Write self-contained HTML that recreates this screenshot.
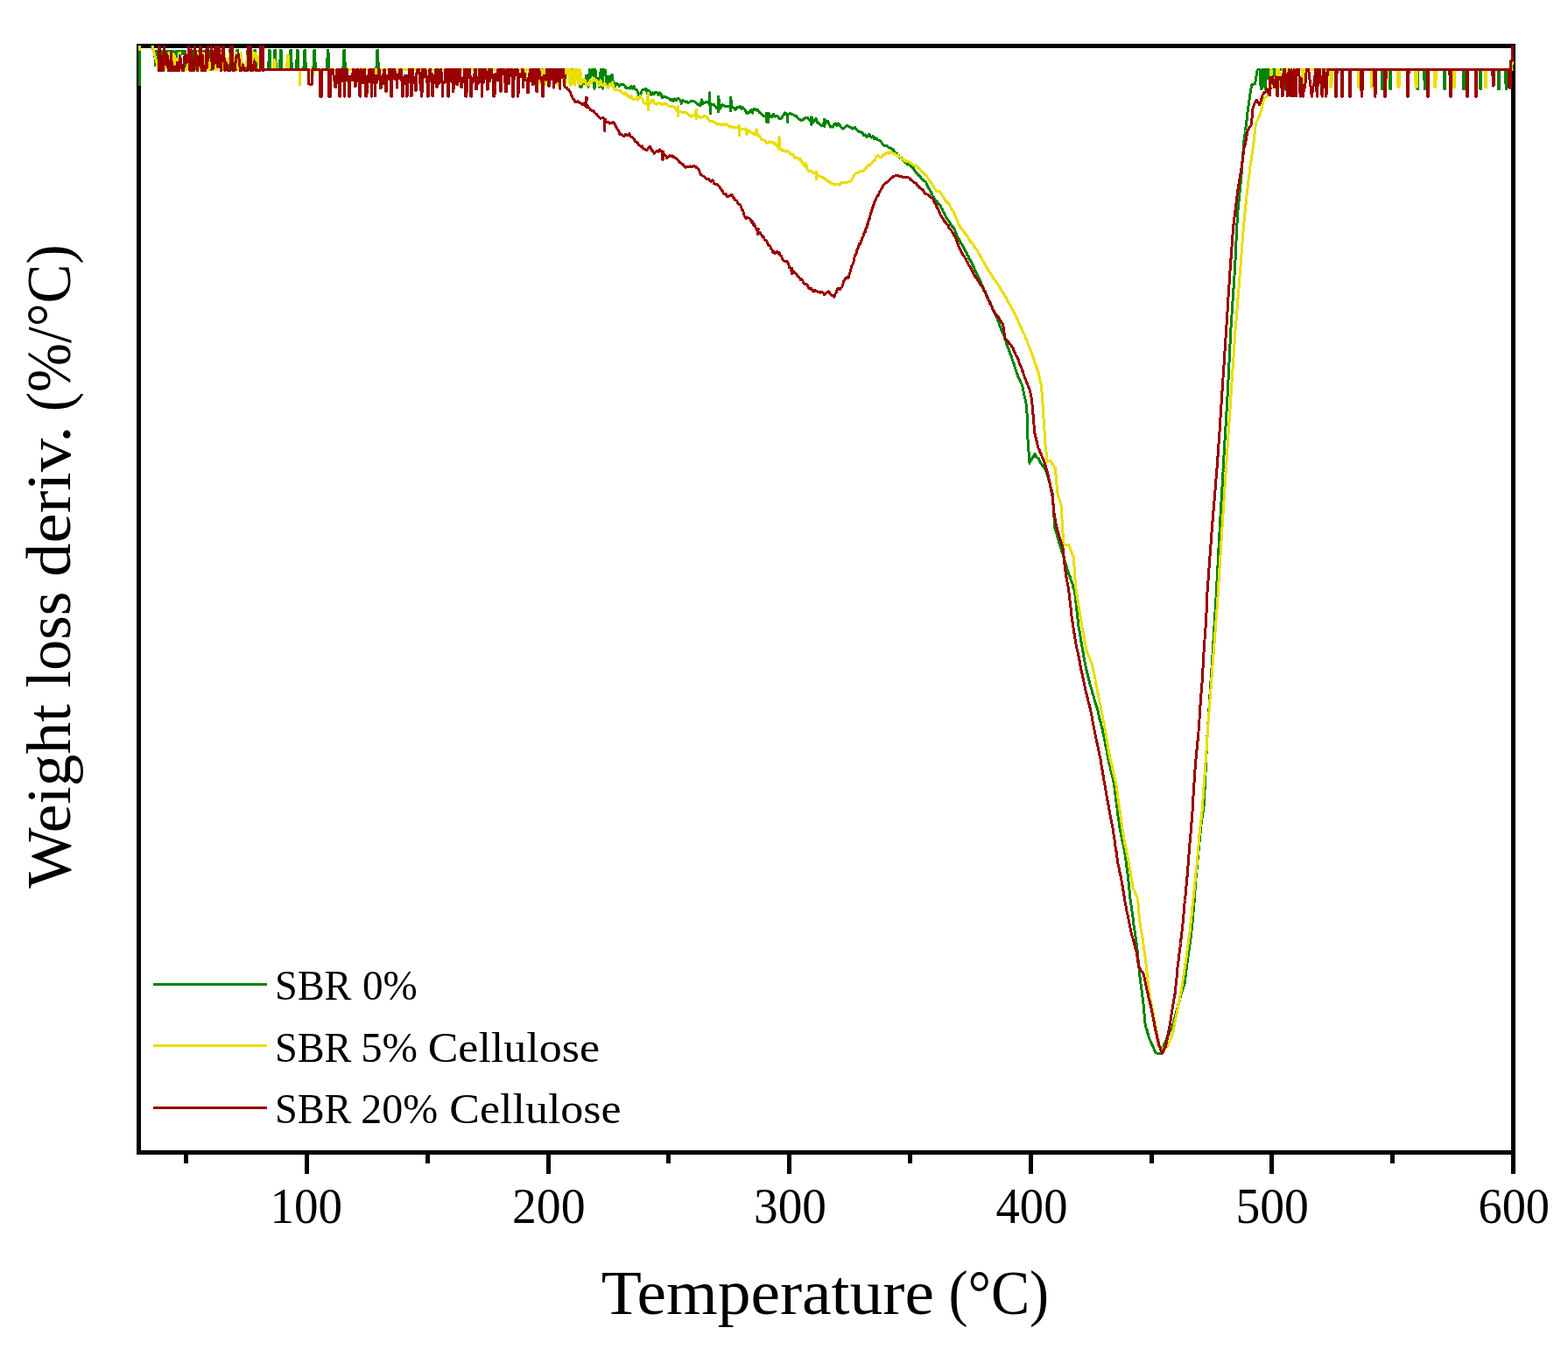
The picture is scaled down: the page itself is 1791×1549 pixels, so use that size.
<!DOCTYPE html>
<html><head><meta charset="utf-8"><title>Weight loss derivative vs temperature</title>
<style>html,body{margin:0;padding:0;background:#fff;}svg{display:block;}
text{font-family:"Liberation Serif",serif;fill:#000;}</style></head>
<body>
<svg width="1791" height="1549" viewBox="0 0 1791 1549">
<defs><clipPath id="cp"><rect x="157.6" y="52" width="1571.6" height="1262"/></clipPath></defs>
<rect x="158.5" y="52.5" width="1570.0" height="1264.0" fill="none" stroke="#000" stroke-width="5" shape-rendering="crispEdges"/>
<g clip-path="url(#cp)" fill="none" stroke-width="3" stroke-linejoin="round" stroke-linecap="butt" shape-rendering="crispEdges">
<polyline stroke="#008500" points="159.4,97.5 159.4,30.0 173.0,30.0 173.4,52.3 176.0,59.5 176.5,58.4 177.6,74.7 178.6,58.4 179.5,58.4 180.6,60.9 181.6,58.4 182.8,58.4 183.6,79.6 184.7,58.4 185.6,58.4 186.7,58.4 187.6,58.4 188.4,58.4 189.4,65.2 190.5,58.4 191.7,58.4 192.6,80.0 193.8,58.4 194.8,58.4 195.7,58.4 196.9,58.4 198.1,58.4 199.4,60.0 200.3,74.7 201.6,58.4 202.4,58.4 203.6,58.4 204.5,58.4 205.8,61.2 206.7,58.4 207.5,61.8 208.6,58.4 209.5,61.3 210.6,58.4 211.6,58.4 212.6,78.0 213.5,72.1 214.5,76.4 215.4,72.1 216.3,63.3 217.2,58.4 218.1,58.4 219.0,58.4 220.0,58.4 221.3,58.4 222.4,71.8 223.2,78.2 224.2,58.4 225.3,72.0 226.6,76.0 227.6,58.4 228.4,72.4 229.6,58.4 230.8,58.4 231.7,58.4 232.9,58.4 233.8,58.4 235.0,58.4 236.0,72.0 236.8,58.4 237.8,58.4 238.7,58.4 239.8,58.4 240.8,79.8 241.9,58.4 243.0,58.4 243.8,58.4 245.1,58.4 246.3,58.4 247.5,58.4 248.6,58.4 249.9,58.4 251.0,69.0 252.2,58.4 253.4,73.5 254.5,78.7 255.0,58.4 255.4,79.5 256.0,79.5 258.0,79.5 260.0,79.5 261.3,79.5 262.0,66.0 262.3,57.2 262.9,57.2 263.3,66.0 263.9,79.5 264.1,79.5 266.1,79.5 268.1,79.5 269.8,79.5 270.5,66.0 270.8,57.2 271.4,57.2 271.8,66.0 272.4,79.5 272.6,79.5 274.6,79.5 276.6,79.5 278.6,79.5 280.6,79.5 281.8,79.5 282.5,66.0 282.8,57.2 283.4,57.2 283.8,66.0 284.4,79.5 284.6,79.5 286.6,79.5 288.6,79.5 289.8,79.5 290.5,66.0 290.8,57.2 291.4,57.2 291.8,66.0 292.4,79.5 292.6,79.5 294.6,79.5 296.8,79.5 297.5,66.0 297.8,57.2 298.4,57.2 298.8,66.0 299.4,79.5 299.6,79.5 301.6,79.5 303.6,79.5 305.6,79.5 306.5,79.5 307.2,66.0 307.5,57.2 308.1,57.2 308.5,66.0 309.1,79.5 309.3,79.5 311.3,79.5 312.8,79.5 313.5,66.0 313.8,57.2 314.4,57.2 314.8,66.0 315.4,79.5 315.6,79.5 317.6,79.5 319.4,79.5 320.1,66.0 320.4,57.2 321.0,57.2 321.4,66.0 322.0,79.5 322.2,79.5 324.2,79.5 326.2,79.5 328.2,79.5 330.2,79.5 330.8,79.5 331.5,66.0 331.8,57.2 332.4,57.2 332.8,66.0 333.4,79.5 333.6,79.5 335.6,79.5 337.6,79.5 338.4,79.5 339.1,66.0 339.4,57.2 340.0,57.2 340.4,66.0 341.0,79.5 341.2,79.5 343.2,79.5 345.2,79.5 346.8,79.5 347.5,66.0 347.8,57.2 348.4,57.2 348.8,66.0 349.4,79.5 349.6,79.5 351.6,79.5 353.6,79.5 355.6,79.5 357.8,79.5 358.5,66.0 358.8,57.2 359.4,57.2 359.8,66.0 360.4,79.5 360.6,79.5 362.6,79.5 364.6,79.5 366.6,79.5 368.6,79.5 370.6,79.5 372.6,79.5 373.3,79.5 374.0,66.0 374.3,57.2 374.9,57.2 375.3,66.0 375.9,79.5 376.1,79.5 378.1,79.5 380.1,79.5 382.1,79.5 384.1,79.5 386.1,79.5 388.1,79.5 390.1,79.5 391.8,79.5 392.5,66.0 392.8,57.2 393.4,57.2 393.8,66.0 394.4,79.5 394.6,79.5 396.6,79.5 398.6,79.5 400.6,79.5 402.6,79.5 404.6,79.5 406.6,79.5 408.6,79.5 410.6,79.5 412.6,79.5 414.6,79.5 416.6,79.5 418.6,79.5 420.6,79.5 422.6,79.5 424.6,79.5 426.6,79.5 428.6,79.5 429.8,79.5 430.5,66.0 430.8,57.2 431.4,57.2 431.8,66.0 432.4,79.5 432.6,79.5 434.6,79.5 436.6,79.5 438.6,79.5 440.6,79.5 442.6,79.5 444.6,79.5 446.6,79.5 448.6,79.5 450.6,79.5 452.6,79.5 454.6,79.5 456.6,79.5 458.6,79.5 460.6,79.5 462.6,79.5 464.6,79.5 466.6,79.5 468.6,79.5 470.6,79.5 470.8,84.5 471.2,79.5 472.1,79.5 474.1,79.5 476.1,79.5 478.1,79.5 480.1,79.5 482.1,79.5 484.1,79.5 486.1,79.5 486.3,87.5 486.7,79.5 487.6,79.5 489.6,79.5 491.6,79.5 493.6,79.5 495.6,79.5 497.6,79.5 499.6,79.5 501.6,79.5 503.6,79.5 505.6,79.5 507.6,79.5 509.6,79.5 511.6,79.5 513.6,79.5 515.6,79.5 517.6,79.5 519.6,79.5 521.6,79.5 523.6,79.5 525.6,79.5 527.6,79.5 529.6,79.5 531.6,79.5 533.6,79.5 535.6,79.5 537.6,79.5 539.6,79.5 541.6,79.5 543.6,79.5 545.6,79.5 547.6,79.5 549.6,79.5 551.6,79.5 553.6,79.5 555.6,79.5 557.6,79.5 559.6,79.5 561.6,79.5 563.6,79.5 565.6,79.5 567.6,79.5 569.6,79.5 571.6,79.5 573.6,79.5 575.6,79.5 577.6,79.5 579.6,79.5 581.6,79.5 583.6,79.5 585.6,79.5 587.6,79.5 589.6,79.5 591.6,79.5 593.6,79.5 595.6,79.5 597.6,79.5 599.6,79.5 601.6,79.5 603.6,79.5 605.6,79.5 607.6,79.5 609.6,79.5 611.6,79.5 613.6,79.5 615.6,79.5 617.6,79.5 619.6,79.5 621.6,79.5 623.6,79.5 625.6,79.5 627.6,79.5 629.6,79.5 631.6,79.5 633.6,79.5 635.6,79.5 637.6,79.5 639.6,79.5 641.6,79.5 642.8,79.5 644.2,79.5 645.4,79.5 646.6,79.5 647.7,79.5 649.2,79.5 650.6,79.5 652.1,79.5 653.1,79.5 654.1,79.5 655.6,86.1 656.9,79.5 658.1,79.5 659.2,79.5 660.3,87.4 661.7,84.1 662.9,100.0 664.1,99.7 665.3,91.4 666.8,95.9 668.1,93.6 669.5,86.5 670.7,88.1 672.0,99.2 673.3,79.5 674.3,88.4 675.5,85.6 676.4,79.5 677.6,79.5 679.0,101.3 680.0,79.5 681.0,91.8 682.5,90.8 683.5,89.6 685.0,100.1 686.2,79.5 687.3,79.5 688.4,101.1 689.3,79.5 690.2,79.6 691.5,80.4 692.7,94.7 694.2,97.1 695.5,87.1 696.8,96.1 698.0,95.3 699.0,84.9 700.0,92.0 701.5,94.9 702.9,98.2 704.4,95.4 705.9,96.1 707.3,98.3 708.8,96.5 710.2,96.4 711.7,96.4 713.2,97.9 714.8,100.0 716.3,100.7 717.9,100.1 719.4,101.0 721.0,98.9 722.5,101.3 724.1,98.5 725.6,102.5 727.2,102.4 728.7,105.4 730.3,111.3 731.8,106.8 733.4,103.3 734.9,102.4 736.5,102.0 738.0,101.6 739.6,106.7 741.1,103.2 742.7,105.2 744.2,108.6 745.8,105.9 747.3,107.6 748.9,105.0 750.4,106.2 752.0,108.3 753.5,105.8 755.1,107.9 756.6,111.9 758.2,110.5 759.7,110.4 761.3,111.9 762.8,111.9 764.4,112.6 765.9,114.8 767.5,113.3 769.1,115.3 770.6,113.0 772.2,115.0 773.7,112.8 775.3,112.8 776.8,113.9 778.4,118.3 779.9,114.4 781.5,115.4 783.0,116.4 784.6,115.8 786.1,117.4 787.7,116.7 789.2,115.5 790.8,115.8 792.3,115.7 793.9,116.5 795.4,117.6 797.0,119.0 798.5,120.3 800.1,120.4 801.6,113.8 803.2,118.6 804.7,117.3 806.3,116.8 807.8,116.0 809.4,117.1 810.2,120.0 810.5,106.0 810.8,120.0 810.9,117.0 811.2,120.0 811.5,129.8 811.8,120.0 812.5,118.9 814.0,119.4 815.6,119.5 817.1,121.6 818.7,123.6 820.2,121.6 820.2,110.0 820.5,128.0 820.8,110.0 821.8,124.4 823.3,123.3 824.9,119.7 826.4,120.8 828.0,121.1 829.5,121.1 831.1,121.6 832.6,121.3 834.2,120.4 834.2,111.6 834.5,127.0 834.8,111.6 835.7,121.3 837.3,123.1 838.9,123.8 840.4,125.5 842.0,122.4 843.6,123.0 845.2,121.5 846.8,124.3 848.3,122.7 849.9,124.1 851.5,126.6 853.0,129.9 854.5,128.9 856.1,128.2 857.7,125.4 859.3,129.0 861.0,124.1 862.6,124.5 864.2,126.1 865.8,125.7 867.4,128.5 869.1,129.6 870.7,130.8 872.3,132.5 873.9,132.4 875.5,131.9 875.7,129.0 876.0,139.5 876.3,129.0 877.1,132.8 877.2,129.0 877.5,139.5 877.8,129.0 878.7,131.5 880.3,133.8 882.0,133.3 883.6,130.3 885.2,133.1 886.8,132.5 888.4,132.8 890.0,135.1 891.6,135.8 893.3,133.9 894.9,131.8 896.5,128.8 898.1,129.4 899.4,133.0 899.7,139.5 900.0,133.0 899.7,132.0 901.4,129.8 903.0,129.6 904.6,130.8 906.2,131.1 907.8,132.1 909.4,132.1 911.0,134.5 912.7,136.6 914.3,136.9 915.9,137.4 917.5,136.6 919.1,135.0 920.7,134.2 922.3,134.1 923.9,136.3 925.5,138.0 926.7,134.0 927.0,143.0 927.3,134.0 927.1,138.9 928.8,139.5 930.4,136.9 932.0,135.6 933.6,140.1 935.2,141.0 936.8,142.1 938.3,144.0 939.7,143.4 941.2,140.3 941.4,136.0 941.7,144.4 942.0,136.0 942.7,141.6 944.2,139.0 945.6,138.6 947.1,142.1 948.6,145.1 950.1,144.8 951.5,145.1 953.0,141.5 954.6,140.9 956.2,143.5 957.8,140.9 959.4,143.2 961.0,145.8 962.7,147.1 964.3,146.3 965.9,144.9 967.5,143.3 969.1,144.9 970.6,144.9 972.0,145.8 973.5,147.3 975.0,146.4 976.5,145.5 977.9,147.4 979.4,148.7 980.9,150.1 982.4,150.1 983.8,151.3 985.3,151.9 986.8,154.9 988.2,153.9 989.7,156.3 991.2,156.0 992.6,153.4 994.1,155.5 995.5,157.2 997.0,155.7 998.5,158.6 999.9,157.6 1001.4,158.4 1002.8,160.0 1004.1,160.0 1005.5,160.9 1006.8,162.7 1008.1,164.7 1009.5,166.0 1010.8,166.5 1012.2,166.2 1013.5,167.2 1014.8,168.4 1016.2,169.1 1017.5,168.9 1018.9,170.1 1020.2,171.1 1021.5,173.3 1022.9,174.3 1024.2,175.1 1025.6,177.8 1026.8,177.7 1027.9,180.2 1029.1,179.9 1030.2,181.9 1031.4,183.0 1032.5,184.0 1033.7,185.4 1035.0,185.8 1036.4,188.2 1037.7,187.7 1039.0,188.5 1040.4,190.2 1041.7,189.9 1042.6,192.2 1043.5,192.4 1044.4,194.8 1045.3,195.6 1046.2,197.2 1047.1,197.9 1048.0,198.2 1048.9,200.8 1049.8,200.6 1051.0,201.7 1052.1,203.9 1053.3,205.1 1054.4,205.4 1055.6,206.8 1056.7,207.2 1057.9,208.8 1058.6,211.0 1059.4,212.1 1060.1,214.1 1060.8,215.1 1061.6,216.1 1062.3,217.6 1063.1,219.3 1063.8,219.7 1064.5,221.8 1065.3,223.7 1066.0,225.1 1067.0,226.1 1068.0,228.3 1069.0,229.5 1070.0,229.9 1071.0,231.4 1072.0,233.1 1073.0,233.8 1074.0,234.4 1074.7,235.6 1075.3,238.2 1076.0,238.1 1076.7,240.1 1077.4,242.1 1078.0,242.5 1078.7,244.3 1079.4,245.6 1080.1,247.2 1080.8,248.0 1081.4,249.6 1082.1,251.1 1083.0,251.0 1083.9,252.4 1084.7,253.8 1085.6,255.8 1086.5,257.0 1087.4,258.5 1088.2,259.5 1089.1,259.6 1090.0,261.2 1090.6,262.9 1091.2,264.4 1091.8,265.7 1092.4,267.4 1093.0,268.9 1093.6,270.1 1094.3,271.8 1095.1,273.0 1095.8,274.2 1096.6,275.4 1097.3,277.1 1098.1,278.5 1098.8,279.7 1099.6,280.7 1100.3,281.8 1101.1,283.4 1101.8,285.0 1102.6,286.3 1103.3,288.2 1104.0,288.2 1104.7,290.6 1105.4,291.8 1106.1,292.4 1106.8,294.8 1107.5,295.9 1108.2,298.0 1109.0,297.8 1109.7,299.9 1110.4,301.5 1111.1,302.2 1111.8,304.4 1112.5,305.7 1113.2,307.8 1113.9,309.3 1114.5,310.2 1115.2,311.6 1115.8,313.4 1116.4,314.2 1117.0,315.0 1117.7,316.1 1118.3,318.6 1118.9,319.3 1119.6,320.1 1120.2,321.7 1120.8,323.2 1121.4,325.7 1122.1,327.1 1122.7,327.5 1123.3,328.9 1123.9,331.1 1124.6,333.3 1125.2,334.3 1125.8,335.3 1126.5,337.2 1127.1,338.5 1127.7,339.8 1128.3,340.0 1129.0,342.4 1129.6,343.8 1130.2,344.0 1130.8,345.6 1131.5,346.4 1132.1,348.3 1132.7,349.5 1133.4,351.7 1134.0,353.1 1134.6,354.0 1135.2,355.3 1135.9,357.0 1136.5,358.6 1137.1,359.6 1137.6,361.0 1138.2,362.7 1138.8,363.4 1139.3,365.3 1139.9,366.7 1140.4,367.9 1141.0,368.7 1141.6,370.5 1142.1,373.0 1142.7,373.8 1143.2,375.1 1143.8,376.8 1144.4,377.8 1144.9,379.4 1145.5,380.9 1146.0,381.7 1146.6,383.0 1147.1,384.4 1147.6,386.9 1148.2,388.4 1148.7,388.9 1149.2,390.5 1149.8,392.9 1150.3,393.3 1150.9,396.2 1151.4,397.4 1151.9,398.2 1152.5,400.4 1153.0,401.1 1153.5,402.4 1154.1,404.8 1154.6,406.0 1155.1,406.9 1155.6,408.8 1156.1,410.1 1156.5,411.1 1157.0,413.1 1157.5,413.9 1158.0,415.5 1158.5,417.3 1159.0,418.8 1159.5,420.6 1159.9,421.8 1160.4,423.3 1160.9,424.4 1161.4,426.1 1162.0,427.4 1162.6,429.7 1163.2,431.1 1163.8,432.0 1164.4,433.3 1165.1,434.3 1165.7,436.4 1166.3,437.6 1166.9,438.6 1167.5,440.5 1168.1,442.4 1168.4,443.1 1168.7,445.8 1169.0,447.1 1169.3,448.2 1169.6,449.0 1169.9,451.7 1170.2,453.1 1170.6,454.5 1170.9,455.0 1171.2,457.8 1171.5,458.8 1171.8,460.0 1172.1,461.1 1172.4,463.6 1172.7,464.5 1172.8,466.7 1172.8,467.4 1172.9,469.8 1172.9,470.2 1173.0,472.4 1173.0,473.9 1173.0,476.1 1173.1,476.7 1173.2,478.9 1173.2,479.6 1173.2,482.3 1173.3,482.7 1173.3,485.1 1173.4,486.0 1173.5,488.1 1173.5,489.3 1173.5,491.2 1173.6,493.0 1173.6,494.4 1173.7,495.4 1173.8,496.6 1173.8,499.1 1173.9,499.8 1174.0,502.2 1174.1,503.7 1174.2,504.0 1174.3,506.8 1174.5,508.3 1174.6,508.8 1174.7,510.5 1174.8,512.8 1174.9,513.4 1175.0,515.6 1175.1,517.4 1175.2,517.6 1175.3,519.1 1175.5,521.1 1175.6,522.7 1175.7,524.1 1175.8,526.4 1175.9,528.1 1176.0,529.2 1176.8,527.4 1177.6,526.0 1178.4,525.5 1179.3,522.7 1180.1,522.4 1180.9,520.2 1181.7,518.5 1182.7,519.6 1183.6,521.6 1184.6,522.9 1185.6,523.2 1186.6,524.6 1187.5,526.5 1188.5,527.9 1189.3,530.1 1190.2,530.6 1191.0,532.7 1191.9,533.8 1192.8,534.6 1193.6,536.3 1194.5,537.7 1195.3,538.4 1195.7,540.9 1196.2,541.9 1196.6,543.4 1197.1,544.9 1197.5,547.0 1198.0,549.2 1198.4,550.8 1198.9,550.8 1199.3,553.2 1199.8,555.3 1200.2,556.6 1200.7,557.0 1201.1,559.7 1201.6,561.3 1202.0,562.4 1202.1,564.1 1202.2,564.8 1202.3,566.0 1202.4,567.4 1202.5,570.1 1202.6,570.7 1202.8,572.5 1202.9,573.6 1203.0,575.2 1203.1,576.6 1203.2,578.4 1203.3,580.5 1203.4,582.1 1203.5,582.8 1203.6,584.5 1203.7,586.0 1203.8,587.9 1203.9,589.2 1204.0,590.9 1204.1,591.9 1204.3,594.0 1204.4,595.8 1204.5,597.1 1204.6,598.8 1204.7,600.5 1204.8,601.7 1204.9,603.3 1205.3,603.9 1205.8,606.2 1206.2,607.2 1206.6,608.9 1207.1,609.4 1207.5,611.8 1207.9,613.0 1208.4,614.6 1208.8,615.8 1209.2,617.4 1209.7,619.4 1210.1,620.8 1210.6,621.6 1211.0,623.6 1211.4,624.6 1211.9,626.6 1212.3,627.2 1212.7,629.7 1213.2,630.1 1213.6,632.1 1214.0,632.9 1214.5,635.7 1214.9,636.6 1215.3,637.3 1215.8,639.9 1216.2,640.7 1216.7,642.0 1217.2,643.7 1217.7,645.9 1218.2,646.9 1218.7,649.0 1219.1,651.0 1219.6,651.7 1220.1,653.5 1220.6,655.1 1221.1,656.8 1221.6,657.1 1222.1,658.6 1222.6,660.0 1223.1,662.1 1223.6,663.1 1224.1,665.0 1224.6,665.6 1225.0,667.1 1225.5,670.0 1226.0,671.2 1226.5,671.6 1227.0,673.4 1227.5,675.1 1227.7,677.1 1227.8,677.9 1228.0,680.3 1228.2,681.6 1228.3,683.2 1228.5,683.6 1228.7,684.9 1228.8,687.0 1229.0,689.2 1229.2,690.3 1229.3,691.1 1229.5,693.4 1229.7,694.4 1229.8,695.4 1230.0,697.6 1230.2,699.3 1230.3,700.0 1230.5,701.6 1230.7,704.0 1230.8,704.8 1231.0,707.0 1231.2,708.0 1231.3,710.0 1231.5,711.5 1231.7,712.3 1231.8,713.3 1232.0,716.0 1232.3,716.5 1232.5,718.4 1232.8,719.4 1233.0,721.1 1233.3,722.5 1233.5,723.5 1233.8,725.2 1234.0,727.3 1234.3,728.8 1234.5,729.6 1234.8,730.9 1235.0,733.6 1235.3,735.0 1235.5,735.4 1235.8,737.5 1236.0,738.7 1236.3,741.2 1236.5,743.0 1236.8,743.6 1237.0,744.5 1237.3,746.5 1237.5,748.4 1237.8,749.9 1238.0,750.8 1238.3,753.0 1238.5,754.8 1238.8,755.4 1239.2,756.9 1239.5,758.6 1239.9,760.0 1240.3,762.4 1240.7,763.6 1241.0,765.7 1241.4,765.8 1241.8,768.6 1242.2,770.3 1242.5,771.2 1242.9,773.0 1243.3,773.9 1243.6,775.0 1244.0,777.4 1244.4,778.2 1244.8,780.4 1245.1,782.6 1245.5,782.8 1246.0,784.9 1246.4,787.1 1246.9,787.8 1247.3,789.2 1247.8,791.8 1248.2,792.5 1248.7,793.7 1249.1,795.5 1249.6,797.2 1250.0,798.9 1250.5,800.3 1250.9,802.0 1251.4,802.8 1251.8,804.8 1252.3,805.6 1252.7,807.9 1253.1,808.9 1253.4,809.4 1253.8,811.2 1254.2,813.1 1254.6,815.3 1254.9,816.5 1255.3,817.7 1255.7,820.5 1256.1,821.5 1256.5,822.7 1256.8,824.1 1257.2,825.3 1257.6,827.8 1258.0,829.2 1258.3,830.1 1258.7,831.5 1259.1,832.9 1259.4,834.1 1259.7,835.7 1260.0,837.4 1260.3,838.7 1260.6,840.3 1260.9,841.5 1261.2,843.3 1261.5,844.4 1261.8,845.6 1262.1,847.6 1262.4,848.5 1262.6,850.0 1262.9,852.8 1263.2,854.1 1263.5,855.5 1263.8,855.8 1264.1,857.5 1264.4,858.8 1264.7,861.2 1265.0,862.6 1265.3,863.7 1265.6,865.4 1265.9,867.6 1266.2,868.4 1266.6,870.4 1266.9,872.0 1267.3,873.4 1267.6,873.7 1267.9,875.7 1268.3,878.0 1268.6,879.5 1269.0,880.8 1269.3,881.9 1269.6,882.6 1270.0,885.2 1270.3,886.6 1270.7,888.5 1271.0,888.7 1271.3,891.1 1271.7,892.1 1272.0,893.7 1272.4,895.6 1272.7,896.6 1272.9,899.0 1273.1,900.5 1273.3,900.8 1273.4,903.3 1273.6,904.9 1273.8,905.9 1274.0,907.6 1274.2,909.7 1274.4,910.7 1274.6,912.1 1274.8,913.9 1274.9,914.7 1275.1,917.6 1275.3,918.6 1275.5,920.0 1275.7,921.3 1275.9,922.4 1276.1,923.9 1276.3,925.9 1276.5,927.7 1276.7,928.9 1276.9,930.3 1277.1,932.4 1277.3,933.2 1277.6,935.2 1277.8,936.8 1278.0,937.6 1278.2,940.6 1278.4,941.8 1278.6,943.5 1278.8,943.8 1279.0,945.5 1279.2,948.2 1279.4,949.5 1279.7,950.0 1280.1,951.5 1280.4,953.0 1280.8,954.8 1281.1,956.4 1281.5,957.8 1281.8,959.1 1282.1,961.1 1282.5,963.0 1282.8,964.2 1283.2,965.5 1283.5,966.8 1283.9,969.0 1284.2,970.6 1284.4,972.9 1284.6,973.2 1284.8,974.5 1285.1,976.5 1285.3,978.5 1285.5,980.2 1285.7,980.4 1285.9,982.6 1286.2,983.4 1286.4,986.2 1286.6,987.9 1286.8,987.9 1287.0,990.8 1287.2,992.1 1287.4,992.6 1287.7,994.3 1287.9,996.8 1288.1,998.3 1288.3,998.7 1288.4,1000.3 1288.6,1002.0 1288.7,1003.8 1288.9,1004.4 1289.0,1007.0 1289.2,1008.1 1289.3,1009.7 1289.5,1010.6 1289.6,1013.0 1289.8,1014.3 1289.9,1015.5 1290.1,1018.0 1290.2,1019.6 1290.4,1020.4 1290.5,1022.7 1290.7,1023.2 1290.8,1025.4 1291.0,1026.8 1291.2,1028.5 1291.4,1030.2 1291.6,1031.3 1291.8,1032.1 1292.0,1033.6 1292.2,1036.0 1292.4,1036.6 1292.6,1038.8 1292.8,1039.5 1293.1,1041.4 1293.3,1042.9 1293.5,1044.5 1293.7,1046.5 1293.9,1047.5 1294.1,1048.6 1294.3,1050.2 1294.5,1052.0 1294.7,1054.3 1294.9,1056.1 1295.1,1057.4 1295.3,1058.0 1295.5,1059.3 1295.7,1061.1 1296.0,1062.8 1296.2,1064.7 1296.4,1065.7 1296.6,1066.9 1296.8,1068.4 1297.0,1069.9 1297.2,1072.0 1297.4,1073.4 1297.6,1075.0 1297.9,1075.9 1298.1,1077.4 1298.3,1080.1 1298.5,1081.7 1298.7,1081.8 1298.8,1084.2 1299.0,1085.1 1299.1,1087.0 1299.3,1088.1 1299.4,1090.0 1299.6,1091.2 1299.7,1093.4 1299.9,1094.5 1300.0,1096.0 1300.2,1098.0 1300.3,1099.6 1300.4,1100.5 1300.6,1102.7 1300.7,1103.2 1300.9,1105.7 1301.0,1106.3 1301.2,1108.5 1301.3,1110.4 1301.5,1112.4 1301.6,1113.2 1301.8,1114.5 1302.0,1115.8 1302.2,1118.6 1302.4,1119.9 1302.6,1120.4 1302.8,1122.9 1303.0,1124.1 1303.2,1125.2 1303.4,1127.7 1303.7,1128.0 1303.9,1129.6 1304.1,1132.0 1304.3,1133.7 1304.5,1135.8 1304.7,1137.0 1304.9,1138.7 1305.1,1139.9 1305.3,1140.6 1305.5,1142.0 1305.7,1143.7 1305.8,1145.8 1306.0,1147.3 1306.1,1149.1 1306.3,1149.7 1306.4,1151.5 1306.6,1152.7 1306.7,1155.5 1306.9,1156.4 1307.0,1157.6 1307.2,1159.7 1307.3,1160.5 1307.5,1162.0 1307.6,1165.0 1307.8,1166.0 1307.9,1167.7 1308.1,1169.5 1308.2,1170.3 1308.4,1172.0 1308.9,1173.4 1309.4,1175.5 1309.9,1176.6 1310.4,1177.5 1310.8,1180.2 1311.3,1180.5 1311.8,1183.5 1312.3,1184.6 1312.8,1186.2 1313.3,1187.9 1313.9,1188.9 1314.5,1190.8 1315.1,1191.4 1315.7,1193.5 1316.3,1194.2 1316.9,1195.1 1317.5,1196.9 1318.1,1198.3 1319.1,1200.7 1320.0,1202.5 1321.0,1203.0 1322.7,1203.3 1324.3,1203.4 1326.0,1203.7 1326.6,1201.8 1327.2,1199.2 1327.9,1199.1 1328.5,1196.8 1329.1,1194.5 1329.7,1193.2 1330.4,1192.4 1331.0,1190.6 1331.6,1188.8 1332.2,1187.4 1332.9,1185.8 1333.5,1184.9 1334.2,1183.3 1334.8,1182.7 1335.5,1180.6 1336.2,1178.5 1336.8,1177.0 1337.5,1175.7 1338.1,1175.5 1338.8,1173.9 1339.4,1172.0 1339.8,1170.0 1340.2,1169.2 1340.6,1167.1 1340.9,1166.4 1341.3,1165.5 1341.7,1163.7 1342.1,1161.3 1342.5,1160.9 1342.9,1158.5 1343.2,1158.0 1343.6,1155.4 1344.0,1155.0 1344.4,1153.0 1344.8,1151.4 1345.2,1150.4 1345.6,1148.5 1345.9,1147.2 1346.3,1146.3 1346.7,1144.3 1347.1,1143.1 1347.6,1141.6 1348.0,1139.4 1348.5,1137.7 1348.9,1136.1 1349.4,1135.2 1349.8,1133.9 1350.3,1132.0 1350.7,1131.3 1351.2,1128.7 1351.6,1128.5 1352.1,1126.4 1352.5,1124.2 1353.0,1124.1 1353.2,1122.5 1353.4,1119.6 1353.6,1119.0 1353.8,1116.9 1354.0,1115.9 1354.2,1113.8 1354.4,1112.0 1354.6,1111.6 1354.8,1109.5 1355.0,1108.4 1355.2,1106.3 1355.4,1104.5 1355.6,1103.2 1355.8,1102.1 1356.0,1100.0 1356.2,1098.8 1356.4,1097.1 1356.6,1096.4 1356.8,1094.6 1357.0,1093.2 1357.2,1090.6 1357.5,1089.6 1357.7,1089.1 1357.9,1086.9 1358.1,1085.4 1358.3,1084.2 1358.5,1082.1 1358.8,1080.9 1359.0,1078.6 1359.2,1078.1 1359.4,1076.0 1359.6,1074.3 1359.8,1074.0 1360.0,1072.0 1360.3,1070.8 1360.5,1068.2 1360.7,1067.6 1360.8,1064.9 1361.0,1063.6 1361.1,1061.9 1361.3,1061.4 1361.4,1059.2 1361.6,1058.4 1361.7,1055.9 1361.9,1054.9 1362.0,1053.7 1362.2,1052.4 1362.3,1050.3 1362.4,1048.3 1362.6,1046.3 1362.7,1045.6 1362.9,1043.2 1363.0,1042.2 1363.2,1040.3 1363.3,1038.8 1363.5,1036.9 1363.6,1035.6 1363.7,1034.0 1363.8,1032.7 1363.9,1031.1 1364.1,1030.7 1364.2,1028.3 1364.3,1026.6 1364.4,1024.6 1364.5,1023.1 1364.6,1021.9 1364.8,1021.0 1364.9,1019.2 1365.0,1017.8 1365.1,1015.5 1365.2,1014.5 1365.3,1013.4 1365.5,1011.3 1365.6,1009.5 1365.7,1008.4 1365.8,1007.3 1365.9,1005.6 1366.0,1003.0 1366.2,1001.3 1366.3,1000.7 1366.4,998.3 1366.5,997.8 1366.7,996.1 1366.8,994.8 1367.0,992.6 1367.1,991.8 1367.3,990.0 1367.4,988.7 1367.6,987.3 1367.7,984.8 1367.9,984.1 1368.0,982.3 1368.2,980.8 1368.3,978.8 1368.5,977.7 1368.6,976.1 1368.8,973.7 1368.9,973.4 1369.1,970.6 1369.2,969.4 1369.4,967.6 1369.6,967.4 1369.7,964.6 1369.9,963.2 1370.0,961.9 1370.2,961.2 1370.3,959.7 1370.5,957.0 1370.6,956.3 1370.8,954.4 1370.9,952.8 1371.1,951.8 1371.2,949.9 1371.4,948.3 1371.5,946.9 1371.7,945.8 1371.8,944.2 1372.0,941.9 1372.1,939.9 1372.3,939.7 1372.5,937.9 1372.7,936.0 1373.0,935.1 1373.2,933.5 1373.4,931.6 1373.6,930.3 1373.9,928.6 1374.1,927.6 1374.3,925.1 1374.5,924.5 1374.8,922.6 1375.0,920.6 1375.2,919.7 1375.3,918.5 1375.3,916.5 1375.4,915.1 1375.5,913.0 1375.6,912.9 1375.6,911.2 1375.7,908.8 1375.8,907.3 1375.8,905.7 1375.9,905.3 1376.0,902.5 1376.1,901.1 1376.1,900.0 1376.2,898.7 1376.3,896.9 1376.3,895.0 1376.4,893.6 1376.5,892.8 1376.6,891.4 1376.6,889.6 1376.7,887.5 1376.8,887.4 1376.8,884.8 1376.9,883.0 1377.0,882.0 1377.1,880.5 1377.1,878.9 1377.2,878.3 1377.3,875.8 1377.4,874.2 1377.4,872.6 1377.5,870.9 1377.6,870.8 1377.6,869.1 1377.7,867.3 1377.8,865.2 1377.9,863.4 1377.9,861.9 1378.0,860.4 1378.1,860.2 1378.1,857.7 1378.2,856.1 1378.3,854.3 1378.4,853.9 1378.4,852.4 1378.5,850.5 1378.6,849.4 1378.6,848.1 1378.7,845.2 1378.8,844.1 1378.9,842.3 1378.9,842.0 1379.0,840.1 1379.1,838.0 1379.2,836.9 1379.3,834.9 1379.4,833.1 1379.5,831.5 1379.6,831.2 1379.7,829.9 1379.8,827.1 1379.9,826.0 1380.0,825.1 1380.1,823.2 1380.2,821.0 1380.3,819.4 1380.4,819.0 1380.5,816.5 1380.6,815.9 1380.7,814.3 1380.8,812.6 1380.9,811.1 1381.0,809.1 1381.1,807.8 1381.2,806.8 1381.2,805.1 1381.3,803.4 1381.4,801.8 1381.5,800.6 1381.6,798.5 1381.7,796.8 1381.8,795.9 1381.9,793.8 1382.0,793.0 1382.1,791.7 1382.2,788.9 1382.3,788.2 1382.4,786.7 1382.5,785.7 1382.6,783.9 1382.7,781.7 1382.8,779.7 1382.9,779.6 1383.0,778.2 1383.1,775.4 1383.2,774.2 1383.3,772.6 1383.4,770.8 1383.5,770.5 1383.6,768.6 1383.7,766.2 1383.8,765.1 1383.9,763.2 1384.0,762.8 1384.1,761.4 1384.2,759.9 1384.3,758.3 1384.4,756.2 1384.5,754.5 1384.6,753.4 1384.7,750.9 1384.8,750.3 1384.9,748.7 1385.0,747.7 1385.1,746.1 1385.2,743.3 1385.3,741.8 1385.4,740.4 1385.5,739.7 1385.6,737.1 1385.7,737.0 1385.8,735.4 1385.9,732.6 1386.0,732.4 1386.0,729.8 1386.1,728.2 1386.2,726.8 1386.3,725.1 1386.4,724.2 1386.5,723.2 1386.6,720.5 1386.7,719.5 1386.8,718.5 1386.9,716.7 1387.0,715.5 1387.1,714.3 1387.2,712.1 1387.3,711.1 1387.4,708.7 1387.5,706.9 1387.6,706.3 1387.7,703.8 1387.8,703.5 1387.9,700.7 1388.0,699.5 1388.1,698.0 1388.2,697.6 1388.3,695.2 1388.4,693.2 1388.5,691.8 1388.6,690.9 1388.7,689.8 1388.7,688.2 1388.8,686.5 1388.9,684.1 1389.0,683.1 1389.1,682.5 1389.1,679.8 1389.2,678.6 1389.3,676.8 1389.4,675.5 1389.5,673.8 1389.5,672.6 1389.6,671.9 1389.7,669.4 1389.8,667.6 1389.9,666.6 1389.9,665.7 1390.0,663.8 1390.1,662.1 1390.2,661.0 1390.3,660.0 1390.3,657.7 1390.4,655.8 1390.5,654.4 1390.6,653.2 1390.7,651.4 1390.7,651.0 1390.8,648.3 1390.9,647.6 1391.0,646.0 1391.1,644.5 1391.1,643.0 1391.2,641.5 1391.3,639.1 1391.4,638.0 1391.5,636.1 1391.5,635.3 1391.6,634.2 1391.7,631.9 1391.8,630.1 1391.9,628.9 1391.9,627.2 1392.0,626.6 1392.1,624.8 1392.2,623.2 1392.3,621.1 1392.3,620.4 1392.4,618.2 1392.5,617.6 1392.6,615.1 1392.7,613.6 1392.7,613.4 1392.8,612.1 1392.9,609.7 1393.0,608.6 1393.1,606.4 1393.2,606.1 1393.2,603.3 1393.3,602.9 1393.4,600.8 1393.5,599.9 1393.6,597.0 1393.7,596.9 1393.8,595.3 1393.8,592.4 1393.9,590.9 1394.0,590.8 1394.1,588.5 1394.2,586.5 1394.3,584.9 1394.4,583.5 1394.5,582.5 1394.5,580.6 1394.6,579.2 1394.7,577.4 1394.8,575.9 1394.9,575.4 1395.0,573.1 1395.1,571.2 1395.1,570.0 1395.2,569.2 1395.3,566.9 1395.4,566.4 1395.5,564.9 1395.6,563.1 1395.7,561.1 1395.7,560.1 1395.8,558.9 1395.9,556.2 1396.0,555.8 1396.1,554.5 1396.2,552.6 1396.3,551.0 1396.4,548.6 1396.4,547.4 1396.5,546.3 1396.6,544.2 1396.7,543.1 1396.8,542.1 1396.9,540.0 1397.0,539.0 1397.0,536.6 1397.1,534.9 1397.2,534.2 1397.3,531.7 1397.4,531.6 1397.5,530.2 1397.6,528.6 1397.7,526.7 1397.8,524.4 1397.8,524.1 1397.9,522.1 1398.0,519.7 1398.1,518.8 1398.2,517.9 1398.3,515.9 1398.4,514.0 1398.5,513.5 1398.6,511.2 1398.7,508.9 1398.7,507.6 1398.8,506.6 1398.9,505.4 1399.0,503.5 1399.1,502.2 1399.2,500.6 1399.3,498.7 1399.4,496.8 1399.5,495.8 1399.6,495.0 1399.6,493.7 1399.7,490.6 1399.8,489.7 1399.9,489.1 1400.0,487.0 1400.1,484.6 1400.2,483.0 1400.3,482.0 1400.4,480.2 1400.5,480.0 1400.5,477.4 1400.6,476.7 1400.7,474.7 1400.8,473.4 1400.9,471.2 1401.0,470.5 1401.1,468.0 1401.2,466.5 1401.3,465.6 1401.4,464.2 1401.4,462.3 1401.5,461.1 1401.6,459.0 1401.7,458.6 1401.8,456.4 1401.9,455.1 1402.0,453.5 1402.1,452.4 1402.1,450.5 1402.2,448.7 1402.3,447.3 1402.4,446.4 1402.4,444.6 1402.5,443.4 1402.6,440.9 1402.7,439.7 1402.7,438.0 1402.8,436.9 1402.9,434.8 1403.0,433.8 1403.0,432.3 1403.1,429.7 1403.2,429.0 1403.3,426.9 1403.4,426.4 1403.4,424.9 1403.5,423.2 1403.6,421.7 1403.7,420.2 1403.7,418.2 1403.8,416.9 1403.9,415.9 1404.0,413.9 1404.0,411.6 1404.1,410.5 1404.2,409.5 1404.3,407.1 1404.3,405.7 1404.4,404.0 1404.5,403.3 1404.6,401.0 1404.7,399.8 1404.7,397.9 1404.8,397.3 1404.9,395.5 1405.0,393.4 1405.0,392.1 1405.1,391.3 1405.2,388.9 1405.3,387.8 1405.3,385.8 1405.4,384.3 1405.5,384.0 1405.6,381.4 1405.6,380.1 1405.7,379.2 1405.8,377.4 1405.9,376.6 1406.0,374.6 1406.1,373.2 1406.2,371.3 1406.3,369.6 1406.4,368.7 1406.5,366.3 1406.6,365.0 1406.7,364.3 1406.8,362.0 1406.9,360.6 1407.0,360.0 1407.1,357.3 1407.2,356.4 1407.3,355.3 1407.4,352.7 1407.5,352.4 1407.6,351.1 1407.7,349.2 1407.8,347.4 1407.9,346.1 1408.0,344.7 1408.1,342.8 1408.2,342.1 1408.3,340.5 1408.4,339.2 1408.5,336.4 1408.6,335.0 1408.7,333.6 1408.8,332.3 1408.9,330.5 1409.0,329.6 1409.1,328.4 1409.2,326.1 1409.3,325.3 1409.4,323.7 1409.5,322.4 1409.6,320.8 1409.7,318.9 1409.8,317.4 1409.9,315.9 1410.0,314.9 1410.1,312.3 1410.2,311.2 1410.3,310.1 1410.4,309.2 1410.4,306.6 1410.5,305.9 1410.6,303.3 1410.7,303.1 1410.7,301.0 1410.8,300.3 1410.9,297.6 1411.0,296.7 1411.0,294.4 1411.1,292.9 1411.2,291.8 1411.3,290.4 1411.3,289.2 1411.4,286.6 1411.5,285.5 1411.6,284.8 1411.6,282.2 1411.7,281.1 1411.8,279.1 1411.9,277.6 1411.9,276.9 1412.0,275.4 1412.1,273.5 1412.2,272.2 1412.2,270.1 1412.3,268.6 1412.4,267.3 1412.5,267.0 1412.5,264.0 1412.6,262.6 1412.7,262.0 1412.8,259.5 1412.8,259.1 1412.9,257.2 1413.0,255.3 1413.1,254.8 1413.1,252.4 1413.2,251.0 1413.3,249.4 1413.4,247.8 1413.4,247.3 1413.5,244.7 1413.7,244.1 1413.8,242.6 1414.0,240.6 1414.1,238.6 1414.2,238.2 1414.4,236.5 1414.5,235.2 1414.7,232.3 1414.8,231.4 1415.0,230.0 1415.2,228.4 1415.3,227.2 1415.5,226.0 1415.6,224.6 1415.8,222.5 1415.9,221.7 1416.0,219.6 1416.2,217.8 1416.4,215.6 1416.5,214.3 1416.7,212.9 1416.8,212.7 1417.0,210.6 1417.1,208.4 1417.2,208.1 1417.4,206.3 1417.5,204.5 1417.7,203.6 1417.8,201.0 1417.9,200.3 1418.1,197.6 1418.2,196.1 1418.3,194.6 1418.4,194.6 1418.5,193.0 1418.6,190.3 1418.8,188.9 1418.9,188.4 1419.0,186.3 1419.1,184.0 1419.2,183.2 1419.3,181.9 1419.5,180.8 1419.6,179.5 1419.7,177.2 1419.8,176.2 1419.9,173.8 1420.1,173.3 1420.2,170.8 1420.3,170.4 1420.4,168.1 1420.5,166.1 1420.6,165.4 1420.8,163.4 1420.9,162.4 1421.0,160.7 1421.2,159.1 1421.4,158.2 1421.6,156.7 1421.8,155.0 1422.0,152.8 1422.1,151.4 1422.3,150.6 1422.5,149.5 1422.7,147.8 1422.9,146.4 1423.1,144.4 1423.3,142.4 1423.5,140.4 1423.7,140.2 1423.9,138.5 1424.1,136.7 1424.2,135.4 1424.4,134.1 1424.6,131.5 1424.8,129.7 1425.0,128.2 1425.2,127.0 1425.4,125.4 1425.6,124.6 1425.8,122.3 1426.0,121.2 1426.2,119.3 1426.5,117.5 1426.7,117.3 1426.9,115.4 1427.1,113.0 1427.3,112.6 1427.5,110.9 1427.7,109.3 1427.9,107.9 1428.1,106.4 1428.4,104.7 1428.6,103.6 1428.8,102.3 1429.0,100.8 1429.2,98.0 1429.4,96.7 1430.8,96.2 1432.2,96.2 1433.6,95.6 1433.9,94.7 1434.1,92.3 1434.4,90.4 1434.6,89.0 1434.9,87.9 1435.2,85.6 1435.4,84.9 1435.7,83.6 1435.9,81.8 1436.2,80.1 1437.0,79.5 1438.2,79.5 1439.2,79.5 1440.2,101.5 1441.2,101.5 1442.3,79.5 1443.4,79.5 1444.3,90.0 1445.1,101.5 1446.3,79.5 1447.3,79.5 1448.2,90.0 1449.2,79.5 1450.0,90.0 1451.1,101.5 1452.2,79.5 1453.3,79.5 1454.6,79.5 1455.9,90.0 1456.9,79.5 1458.2,101.5 1459.3,79.5 1460.1,79.5 1461.2,79.5 1463.2,79.5 1465.0,79.5 1465.4,92.0 1465.7,101.8 1466.4,101.8 1466.7,79.5 1467.5,79.5 1469.5,79.5 1471.5,79.5 1473.5,79.5 1475.5,79.5 1477.5,79.5 1479.5,79.5 1481.5,79.5 1483.5,79.5 1485.5,79.5 1487.5,79.5 1489.5,79.5 1491.5,79.5 1493.5,79.5 1495.5,79.5 1497.5,79.5 1499.5,79.5 1501.5,79.5 1503.5,79.5 1505.5,79.5 1507.5,79.5 1509.5,79.5 1511.5,79.5 1513.5,79.5 1515.5,79.5 1517.5,79.5 1519.5,79.5 1521.5,79.5 1523.5,79.5 1525.5,79.5 1527.5,79.5 1529.5,79.5 1531.5,79.5 1533.5,79.5 1535.5,79.5 1537.5,79.5 1539.5,79.5 1541.5,79.5 1543.5,79.5 1545.5,79.5 1547.5,79.5 1549.5,79.5 1551.5,79.5 1553.5,79.5 1555.5,79.5 1557.5,79.5 1559.5,79.5 1561.5,79.5 1563.5,79.5 1565.5,79.5 1567.5,79.5 1569.5,79.5 1571.5,79.5 1573.5,79.5 1575.5,79.5 1578.0,79.5 1578.4,92.0 1578.7,101.8 1579.4,101.8 1579.7,79.5 1580.5,79.5 1582.5,79.5 1584.5,79.5 1586.5,79.5 1587.2,79.5 1587.6,92.0 1587.9,101.8 1588.6,101.8 1588.9,79.5 1589.7,79.5 1591.7,79.5 1593.7,79.5 1595.7,79.5 1597.7,79.5 1599.7,79.5 1601.7,79.5 1603.7,79.5 1605.7,79.5 1607.7,79.5 1609.7,79.5 1611.7,79.5 1613.7,79.5 1615.7,79.5 1618.2,79.5 1618.6,92.0 1618.9,101.8 1619.6,101.8 1619.9,79.5 1620.7,79.5 1622.7,79.5 1624.7,79.5 1626.6,79.5 1627.0,92.0 1627.3,101.8 1628.0,101.8 1628.3,79.5 1629.1,79.5 1631.1,79.5 1633.1,79.5 1635.1,79.5 1637.1,79.5 1639.1,79.5 1641.1,79.5 1643.1,79.5 1645.1,79.5 1647.1,79.5 1649.2,79.5 1649.6,92.0 1649.9,101.8 1650.6,101.8 1650.9,79.5 1651.7,79.5 1653.7,79.5 1655.7,79.5 1657.7,79.5 1659.7,79.5 1661.7,79.5 1663.7,79.5 1665.7,79.5 1667.7,79.5 1669.7,79.5 1671.0,79.5 1671.4,92.0 1671.7,101.8 1672.4,101.8 1672.7,79.5 1673.5,79.5 1675.5,79.5 1677.5,79.5 1679.5,79.5 1681.5,79.5 1683.5,79.5 1685.5,79.5 1687.5,79.5 1689.5,79.5 1690.3,79.5 1690.7,92.0 1691.0,101.8 1691.7,101.8 1692.0,79.5 1692.8,79.5 1694.8,79.5 1696.8,79.5 1698.8,79.5 1700.8,79.5 1702.8,79.5 1704.8,79.5 1706.8,79.5 1708.8,79.5 1711.0,79.5 1711.4,92.0 1711.7,101.8 1712.4,101.8 1712.7,79.5 1713.5,79.5 1715.5,79.5 1717.5,79.5 1719.5,79.5 1719.9,92.0 1720.2,101.8 1720.9,101.8 1721.2,79.5 1726.0,79.5 1730.0,79.5"/>
<polyline stroke="#E9DE00" points="159.4,58.4 159.4,30.0 173.5,30.0 174.0,52.0 180.0,75.7 180.5,79.5 181.4,60.6 182.6,60.6 183.5,79.5 184.5,79.5 185.6,64.3 186.9,79.5 188.2,79.5 189.4,72.0 190.8,65.3 191.8,72.2 192.7,60.6 193.6,60.6 194.9,66.7 196.0,67.8 197.2,76.5 198.7,62.4 200.2,66.5 201.4,79.5 202.7,67.1 204.1,74.6 205.6,60.6 206.6,79.5 208.1,79.5 209.4,79.5 210.8,79.5 212.3,79.5 213.3,79.5 214.6,73.9 216.1,77.1 217.0,79.5 218.3,69.9 219.6,79.5 221.0,79.5 222.6,70.9 223.5,60.6 224.9,60.6 226.3,60.6 227.2,60.6 228.1,66.8 229.0,79.5 230.2,60.6 231.3,60.6 232.2,65.0 233.5,76.0 235.0,79.5 236.4,60.6 237.8,79.5 238.9,79.5 240.2,74.9 241.7,60.6 242.8,79.5 244.2,60.6 245.4,79.5 246.6,70.9 247.8,79.5 249.3,60.6 250.6,60.6 251.9,76.0 252.9,60.6 254.2,79.5 255.4,79.5 256.3,60.6 257.5,70.5 258.5,74.8 259.9,69.2 261.5,71.5 262.7,60.6 264.1,60.6 265.6,60.6 266.8,72.4 268.3,76.7 269.6,60.6 271.0,71.7 272.1,79.5 273.1,70.4 274.7,60.6 275.7,65.6 276.7,79.5 278.2,74.7 279.5,76.2 280.8,74.9 282.4,67.1 283.4,60.6 284.7,66.9 286.3,68.2 287.6,79.5 289.0,60.6 290.3,60.6 291.3,60.6 292.4,68.1 293.9,63.9 295.3,73.1 296.8,79.5 297.8,79.5 299.1,60.6 300.1,60.6 301.0,79.5 303.0,79.5 305.0,79.5 307.0,79.5 309.0,79.5 311.0,79.5 312.5,79.5 313.1,68.0 313.9,68.0 314.5,79.5 315.0,79.5 317.0,79.5 319.0,79.5 321.0,79.5 323.0,79.5 325.0,79.5 327.0,79.5 327.7,79.5 328.3,63.0 329.1,63.0 329.7,79.5 330.2,79.5 332.2,79.5 334.2,79.5 336.2,79.5 338.2,79.5 340.2,79.5 342.2,79.5 342.4,96.5 342.8,79.5 343.7,79.5 345.7,79.5 347.7,79.5 349.7,79.5 351.7,79.5 353.7,79.5 355.7,79.5 357.7,79.5 357.9,85.5 358.3,79.5 359.2,79.5 361.2,79.5 363.2,79.5 365.2,79.5 367.2,79.5 369.2,79.5 371.2,79.5 373.2,79.5 375.2,79.5 377.2,79.5 379.2,79.5 381.2,79.5 383.2,79.5 385.2,79.5 387.2,79.5 389.2,79.5 391.2,79.5 393.2,79.5 395.2,79.5 397.2,79.5 399.2,79.5 401.2,79.5 403.2,79.5 405.2,79.5 407.2,79.5 409.2,79.5 411.2,79.5 413.2,79.5 415.2,79.5 417.2,79.5 419.2,79.5 421.2,79.5 423.2,79.5 425.2,79.5 427.2,79.5 427.4,89.5 427.8,79.5 428.7,79.5 428.9,96.5 429.3,79.5 430.2,79.5 430.4,89.5 430.8,79.5 431.7,79.5 433.7,79.5 435.7,79.5 437.7,79.5 439.7,79.5 441.7,79.5 443.7,79.5 445.7,79.5 447.7,79.5 449.7,79.5 451.7,79.5 453.7,79.5 455.7,79.5 457.7,79.5 459.7,79.5 461.7,79.5 463.7,79.5 465.7,79.5 467.7,79.5 469.7,79.5 471.7,79.5 473.7,79.5 475.7,79.5 477.7,79.5 479.7,79.5 481.7,79.5 483.7,79.5 485.7,79.5 487.7,79.5 489.7,79.5 491.7,79.5 493.7,79.5 495.7,79.5 497.7,79.5 499.7,79.5 501.7,79.5 503.7,79.5 505.7,79.5 507.7,79.5 509.7,79.5 511.7,79.5 513.7,79.5 515.7,79.5 517.7,79.5 519.7,79.5 521.7,79.5 523.7,79.5 525.7,79.5 527.7,79.5 529.7,79.5 531.7,79.5 533.7,79.5 533.9,85.5 534.3,79.5 535.2,79.5 537.2,79.5 539.2,79.5 541.2,79.5 543.2,79.5 545.2,79.5 547.2,79.5 549.2,79.5 549.4,85.5 549.8,79.5 550.7,79.5 552.7,79.5 554.7,79.5 556.7,79.5 558.7,79.5 560.7,79.5 560.9,89.5 561.3,79.5 562.2,79.5 564.2,79.5 566.2,79.5 568.2,79.5 570.2,79.5 572.2,79.5 574.2,79.5 576.2,79.5 578.2,79.5 580.2,79.5 582.2,79.5 584.2,79.5 586.2,79.5 588.2,79.5 590.2,79.5 592.2,79.5 594.2,79.5 596.2,79.5 598.2,79.5 600.2,79.5 600.4,89.5 600.8,79.5 601.7,79.5 603.7,79.5 605.7,79.5 607.7,79.5 609.7,79.5 611.7,79.5 613.7,79.5 615.0,79.5 616.1,79.5 617.0,95.7 618.3,79.5 619.4,85.4 620.5,86.2 621.5,79.5 622.6,96.9 623.6,89.2 624.6,87.4 625.5,88.6 626.5,79.5 627.5,79.5 628.5,90.7 629.8,79.5 630.7,89.0 631.7,79.5 633.0,85.0 634.1,79.5 635.0,93.6 636.3,96.0 637.1,79.5 638.3,97.5 639.6,79.5 640.6,79.5 641.6,79.5 642.7,79.5 643.7,94.2 644.5,79.5 645.3,79.5 646.2,94.3 647.3,79.5 648.2,79.5 649.5,79.5 650.4,89.9 651.2,97.7 652.2,79.5 653.4,95.6 654.7,79.5 655.7,79.5 656.7,97.4 657.7,79.5 658.8,79.5 659.6,79.5 660.9,95.4 661.8,91.2 662.9,79.5 663.8,96.2 664.0,91.2 665.5,94.4 666.9,90.3 668.4,92.2 669.8,97.7 671.3,95.1 672.7,97.1 674.2,91.7 675.6,95.0 677.1,91.5 678.5,89.1 680.0,93.0 681.5,91.8 683.0,93.5 684.5,97.8 686.0,91.9 687.5,97.1 689.0,97.5 690.5,94.9 692.0,97.5 693.5,99.4 695.0,100.1 696.5,96.0 698.0,97.3 699.6,94.0 701.1,101.6 702.6,102.6 704.1,102.5 705.6,103.0 707.1,103.0 708.7,103.0 710.2,105.5 711.7,107.0 713.2,107.1 714.8,106.0 716.3,109.9 717.9,109.1 719.4,111.9 721.0,109.5 722.5,113.0 724.1,113.6 725.6,113.0 727.0,111.1 728.4,114.0 729.8,112.8 731.2,109.7 732.6,112.2 734.0,113.5 735.4,117.4 736.8,118.4 738.2,118.6 739.6,120.1 740.2,106.0 740.5,125.6 740.8,106.0 741.1,118.2 742.7,118.2 744.2,114.8 745.8,114.0 747.3,117.8 748.9,118.6 750.4,119.5 752.0,117.3 753.5,118.2 755.1,119.2 756.6,118.7 758.2,119.4 759.7,118.0 761.3,119.0 762.8,120.4 764.4,121.1 765.9,121.0 767.5,121.0 768.9,122.0 770.3,122.0 771.7,124.5 773.1,126.9 774.2,121.4 774.5,132.6 774.8,121.4 774.5,127.3 775.9,128.0 777.3,127.6 778.7,128.3 780.1,128.9 781.5,128.7 783.0,128.1 784.6,129.4 786.1,131.0 787.7,131.7 789.2,133.2 790.8,132.8 792.3,131.5 793.9,132.3 795.1,125.6 795.4,136.0 795.7,125.6 795.4,132.6 797.0,132.9 798.5,132.7 800.1,134.8 801.6,133.6 803.2,133.1 804.7,132.5 806.3,133.0 807.8,134.9 809.4,136.5 810.9,138.4 812.5,138.9 814.0,138.4 815.6,139.6 817.1,140.1 818.7,141.9 820.2,142.1 821.8,141.7 823.3,142.9 824.9,142.3 826.4,141.5 828.0,142.9 829.5,142.0 831.1,143.0 832.6,144.0 834.2,145.4 835.7,144.2 837.3,145.6 838.9,145.0 840.4,146.1 842.0,145.9 843.6,146.6 844.0,143.8 844.3,155.0 844.6,143.8 845.2,148.6 846.8,147.4 848.3,148.0 849.9,147.6 851.5,146.8 853.0,153.5 854.5,148.2 856.1,150.3 857.5,151.3 858.8,151.5 860.1,152.1 861.5,153.8 862.9,153.9 864.2,147.7 865.5,155.0 866.9,154.7 868.2,156.4 869.6,159.2 870.9,159.4 872.3,160.2 873.6,160.5 875.0,162.1 876.3,163.5 877.7,163.2 879.0,161.6 880.3,162.8 881.7,162.1 883.0,162.8 884.4,164.4 885.7,163.9 887.1,166.5 888.4,167.6 889.8,167.2 889.7,170.0 890.0,156.5 890.3,170.0 891.1,170.2 892.5,170.1 893.8,172.3 895.1,171.8 896.5,172.3 897.9,173.3 899.2,172.5 900.5,172.9 901.9,175.2 903.2,176.0 904.6,176.0 905.8,176.5 907.1,178.9 908.3,181.0 909.6,179.8 910.8,180.5 912.0,181.1 913.3,182.3 914.5,182.0 915.7,184.7 917.0,186.2 918.2,188.6 919.5,190.2 920.7,186.7 922.0,193.4 923.4,195.0 924.7,195.9 926.1,195.1 927.4,195.7 928.8,197.8 930.1,197.6 931.4,197.9 932.2,196.0 932.5,205.0 932.8,196.0 932.8,198.9 934.1,200.1 935.5,200.9 936.8,201.2 938.1,202.8 939.5,202.4 940.8,203.8 942.2,203.9 943.5,206.0 944.9,205.8 946.2,207.5 947.6,207.3 949.0,209.4 950.3,209.3 951.6,210.0 953.0,210.2 954.6,211.2 956.2,210.3 957.8,210.8 959.4,211.5 961.0,208.7 962.6,208.0 964.2,208.0 965.9,208.4 967.5,208.2 969.1,207.8 970.3,207.5 971.4,207.1 972.6,205.6 973.7,203.9 974.9,201.1 976.0,199.6 977.2,198.4 978.6,197.6 979.9,197.2 981.2,196.8 982.6,195.7 983.9,195.2 985.3,195.5 986.6,195.0 988.0,192.7 989.3,192.3 990.6,189.8 992.0,188.6 993.3,189.3 994.5,187.5 995.6,186.7 996.8,185.3 997.9,183.6 999.1,183.3 1000.2,180.5 1001.4,178.5 1003.0,177.7 1004.6,179.0 1006.3,179.8 1007.9,178.6 1009.5,176.1 1011.1,176.5 1012.7,174.2 1014.3,175.1 1015.9,175.1 1017.5,173.7 1019.1,175.1 1020.7,175.4 1022.4,176.0 1024.0,177.2 1025.6,177.0 1026.9,178.6 1028.3,179.2 1029.7,181.5 1031.0,181.7 1032.3,182.3 1033.7,183.9 1035.0,184.1 1036.4,184.0 1037.7,184.5 1039.0,185.2 1040.4,186.9 1041.7,186.8 1043.0,188.5 1044.4,189.2 1045.8,188.7 1047.1,189.7 1048.5,191.6 1049.8,192.4 1051.0,193.3 1052.1,195.2 1053.3,196.2 1054.4,197.0 1055.6,199.3 1056.7,198.8 1057.9,200.4 1058.7,202.4 1059.5,202.8 1060.3,204.8 1061.1,205.4 1062.0,206.8 1062.8,208.0 1063.6,209.4 1064.4,209.3 1065.2,211.7 1066.0,212.5 1067.1,214.9 1068.3,216.2 1069.4,217.9 1070.6,218.7 1071.7,219.0 1072.9,218.8 1074.0,219.1 1075.0,221.4 1076.0,223.0 1077.0,224.7 1078.0,225.9 1079.1,227.3 1080.1,230.2 1081.1,229.9 1082.1,230.5 1082.9,232.2 1083.7,232.2 1084.5,233.7 1085.3,235.8 1086.0,236.8 1086.8,238.8 1087.6,239.6 1088.4,240.7 1089.2,241.7 1090.0,243.7 1090.6,245.3 1091.2,246.6 1091.8,247.9 1092.4,250.0 1093.0,251.1 1093.6,253.0 1094.4,255.2 1095.2,256.8 1096.0,256.9 1096.8,259.0 1097.6,260.5 1098.4,260.8 1099.2,262.6 1100.1,263.1 1100.9,263.8 1101.7,265.9 1102.5,266.2 1103.3,268.4 1104.1,269.1 1104.9,269.6 1105.8,271.5 1106.6,273.2 1107.5,274.5 1108.4,275.2 1109.2,276.9 1110.1,277.6 1111.0,278.4 1111.9,279.9 1112.7,282.2 1113.6,282.3 1114.5,284.2 1115.3,284.8 1116.2,286.1 1117.0,288.0 1117.7,289.0 1118.5,290.4 1119.2,291.2 1120.0,293.6 1120.7,293.5 1121.5,295.9 1122.2,297.5 1123.0,298.7 1123.7,299.3 1124.5,300.5 1125.2,302.7 1126.0,303.7 1126.8,305.7 1127.6,306.8 1128.4,306.8 1129.2,309.0 1130.0,310.1 1130.8,311.0 1131.7,313.5 1132.5,314.3 1133.3,315.1 1134.1,316.6 1134.9,317.9 1135.7,319.6 1136.5,319.7 1137.3,321.1 1138.1,322.5 1138.9,323.6 1139.7,324.5 1140.5,325.8 1141.3,327.2 1142.2,329.4 1143.0,329.9 1143.8,331.5 1144.6,332.8 1145.4,334.5 1146.2,334.6 1147.0,336.6 1147.8,338.0 1148.6,339.4 1149.3,340.2 1150.1,341.7 1150.8,343.9 1151.6,344.5 1152.3,346.6 1153.1,347.4 1153.8,348.7 1154.6,349.7 1155.3,352.1 1156.1,352.6 1156.8,354.1 1157.6,355.1 1158.3,357.7 1159.1,358.4 1159.7,359.5 1160.4,360.8 1161.0,362.2 1161.6,363.8 1162.2,364.7 1162.9,366.7 1163.5,368.6 1164.1,370.0 1164.8,371.4 1165.4,372.4 1166.0,374.1 1166.6,374.2 1167.3,376.1 1167.9,378.4 1168.5,378.8 1169.1,380.7 1169.8,381.7 1170.4,383.2 1171.0,385.1 1171.5,386.2 1172.1,387.8 1172.7,388.4 1173.2,389.5 1173.8,390.8 1174.3,393.1 1174.9,394.3 1175.5,395.5 1176.0,397.5 1176.6,398.4 1177.2,399.9 1177.7,401.1 1178.3,402.5 1178.8,404.9 1179.4,406.0 1179.9,407.1 1180.4,408.3 1180.9,410.7 1181.3,411.3 1181.8,413.3 1182.3,414.9 1182.8,415.9 1183.3,417.1 1183.8,420.0 1184.3,420.3 1184.7,422.7 1185.2,422.7 1185.7,424.4 1186.2,426.2 1186.5,427.3 1186.9,429.5 1187.2,430.5 1187.6,432.8 1187.9,434.8 1188.2,436.1 1188.6,436.5 1188.9,438.0 1189.3,439.5 1189.6,442.4 1189.7,443.8 1189.8,445.0 1189.9,446.1 1190.0,447.9 1190.1,450.1 1190.2,451.1 1190.3,452.1 1190.4,454.4 1190.5,455.1 1190.6,457.6 1190.8,458.6 1190.9,460.3 1191.0,461.0 1191.1,463.8 1191.2,465.4 1191.3,465.7 1191.4,467.5 1191.5,469.6 1191.6,470.6 1191.7,471.7 1191.8,473.8 1191.9,476.3 1192.0,477.5 1192.1,479.0 1192.2,479.8 1192.3,481.0 1192.4,484.1 1192.5,484.5 1192.6,486.2 1192.7,488.3 1192.8,489.2 1192.9,490.8 1193.0,491.8 1193.1,494.6 1193.2,496.2 1193.3,496.7 1193.4,498.5 1193.5,500.7 1193.6,501.5 1193.7,503.8 1193.8,504.8 1193.9,506.5 1194.0,508.5 1194.1,508.7 1194.3,510.7 1194.5,512.5 1194.7,514.3 1194.9,515.6 1195.1,517.0 1195.2,518.3 1195.4,520.4 1195.6,521.5 1195.8,523.2 1196.0,525.0 1196.2,525.9 1196.4,527.7 1198.1,526.3 1199.8,526.1 1200.7,527.8 1201.7,529.7 1202.6,530.2 1203.5,532.3 1204.5,533.7 1205.4,534.3 1205.5,536.5 1205.7,537.6 1205.8,539.8 1205.9,541.4 1206.0,542.5 1206.2,543.5 1206.3,545.7 1206.4,547.1 1206.6,548.6 1206.7,549.4 1206.8,551.7 1206.9,553.7 1207.1,554.7 1207.2,555.5 1207.3,558.0 1207.4,558.8 1207.6,560.9 1207.7,561.9 1208.2,564.3 1208.6,565.0 1209.0,567.3 1209.5,568.4 1210.0,569.8 1210.4,571.7 1210.9,573.1 1211.3,574.4 1211.8,575.9 1212.2,578.0 1212.3,578.9 1212.4,580.2 1212.4,581.6 1212.5,584.4 1212.6,586.1 1212.7,587.7 1212.8,588.6 1212.8,590.3 1212.9,591.1 1213.0,593.0 1213.1,595.1 1213.1,595.9 1213.2,598.0 1213.3,599.4 1213.4,601.8 1213.5,602.2 1213.6,604.8 1213.8,604.9 1213.9,606.6 1214.0,608.7 1214.1,610.3 1214.2,611.1 1214.3,613.4 1214.4,615.5 1214.5,615.6 1214.7,618.0 1214.8,620.1 1214.9,621.1 1215.0,622.4 1216.9,622.9 1218.8,622.8 1220.7,622.3 1221.3,623.7 1221.9,625.2 1222.6,626.7 1223.2,629.1 1223.8,629.9 1224.4,631.2 1225.1,633.6 1225.7,634.9 1226.3,636.2 1226.4,638.2 1226.5,638.6 1226.6,641.6 1226.7,641.7 1226.8,644.2 1226.9,645.9 1227.0,647.2 1227.1,648.0 1227.2,650.8 1227.3,651.4 1227.4,653.4 1227.6,654.8 1227.7,656.5 1227.8,658.5 1227.9,660.0 1228.0,661.5 1228.1,662.8 1228.2,663.5 1228.3,665.3 1228.4,667.5 1228.5,668.9 1228.6,670.9 1228.8,671.6 1229.1,673.6 1229.3,675.5 1229.5,676.4 1229.8,678.0 1230.0,679.4 1230.2,680.7 1230.5,682.1 1230.7,683.1 1230.9,685.4 1231.2,687.5 1231.4,688.3 1231.6,690.2 1231.9,690.6 1232.1,693.4 1232.3,694.1 1232.6,695.8 1232.8,698.1 1233.0,698.6 1233.3,699.9 1233.5,702.4 1233.7,703.4 1234.0,704.3 1234.2,706.5 1234.5,707.5 1234.8,709.5 1235.0,710.5 1235.3,711.6 1235.6,714.0 1235.9,715.2 1236.2,717.3 1236.5,717.9 1236.8,719.7 1237.0,721.6 1237.3,722.8 1237.6,724.7 1237.9,726.5 1238.2,726.9 1238.5,728.9 1238.7,730.3 1239.0,732.4 1239.3,734.5 1239.6,735.6 1239.9,737.1 1240.2,737.8 1240.4,739.7 1240.7,741.2 1241.0,742.3 1241.6,743.9 1242.1,745.8 1242.7,747.4 1243.3,748.7 1243.8,750.2 1244.4,751.6 1245.0,752.9 1245.5,755.2 1246.1,756.0 1246.7,758.3 1247.2,758.9 1247.8,760.2 1248.1,762.8 1248.4,763.1 1248.7,764.4 1249.0,766.5 1249.3,767.5 1249.6,769.2 1249.9,770.7 1250.2,771.7 1250.5,773.6 1250.8,774.4 1251.1,776.8 1251.3,778.0 1251.6,779.5 1251.9,782.0 1252.2,782.7 1252.5,784.7 1252.8,785.0 1253.1,787.6 1253.4,788.1 1253.7,789.6 1254.0,792.5 1254.3,793.1 1254.6,795.2 1254.9,795.8 1255.2,798.0 1255.5,799.8 1255.8,800.5 1256.1,802.4 1256.4,804.3 1256.7,804.9 1257.0,806.3 1257.3,807.3 1257.6,809.9 1257.9,811.2 1258.1,813.0 1258.4,814.3 1258.7,815.4 1259.0,817.1 1259.3,818.6 1259.6,819.9 1259.9,821.6 1260.2,822.8 1260.5,824.3 1260.8,825.4 1261.1,826.6 1261.4,828.4 1261.7,830.4 1261.9,831.5 1262.2,833.5 1262.5,835.2 1262.7,837.0 1263.0,838.2 1263.3,840.1 1263.5,841.0 1263.8,842.6 1264.1,844.4 1264.3,845.1 1264.6,847.1 1264.9,848.8 1265.2,850.6 1265.4,851.6 1265.7,853.1 1266.0,855.3 1266.2,855.8 1266.5,857.5 1266.8,860.2 1267.0,861.3 1267.3,862.5 1267.6,864.6 1267.8,865.8 1268.1,866.9 1268.4,869.0 1268.8,869.4 1269.1,871.1 1269.5,872.1 1269.8,873.7 1270.1,874.9 1270.5,876.3 1270.8,879.0 1271.2,879.8 1271.5,882.1 1271.8,882.9 1272.2,883.5 1272.5,885.9 1272.9,887.7 1273.2,888.6 1273.5,890.0 1273.9,891.3 1274.2,892.9 1274.6,895.1 1274.9,895.9 1275.1,897.7 1275.3,899.0 1275.5,901.1 1275.7,902.1 1276.0,904.2 1276.2,905.0 1276.4,907.6 1276.6,907.6 1276.8,910.3 1277.0,912.0 1277.2,913.0 1277.4,914.9 1277.6,916.1 1277.8,916.7 1278.1,919.5 1278.3,920.3 1278.5,922.2 1278.7,923.9 1278.9,924.9 1279.1,926.0 1279.3,928.4 1279.5,929.7 1279.8,931.3 1280.0,932.6 1280.2,934.6 1280.4,936.1 1280.6,937.3 1280.8,938.1 1281.1,939.9 1281.3,941.4 1281.5,943.2 1281.7,944.1 1281.9,946.2 1282.1,947.2 1282.3,949.1 1282.6,949.8 1282.8,952.5 1283.0,953.6 1283.2,954.2 1283.5,955.7 1283.8,958.1 1284.1,959.3 1284.4,961.5 1284.7,961.7 1285.0,964.5 1285.3,966.0 1285.6,966.7 1285.9,967.8 1286.3,970.7 1286.6,971.3 1286.9,973.8 1287.2,974.7 1287.5,976.9 1287.8,978.3 1288.1,979.6 1288.4,980.6 1288.7,983.1 1289.0,983.9 1289.3,984.8 1289.5,987.6 1289.8,988.0 1290.0,989.6 1290.3,991.6 1290.5,993.2 1290.8,995.3 1291.1,996.0 1291.3,998.5 1291.6,998.7 1291.8,1000.5 1292.1,1002.9 1292.4,1004.3 1292.6,1006.3 1292.9,1006.6 1293.1,1008.1 1293.4,1010.3 1293.6,1012.4 1293.9,1013.5 1294.5,1015.2 1295.1,1016.9 1295.6,1017.3 1296.2,1018.4 1296.8,1020.9 1297.4,1021.3 1298.0,1023.1 1298.5,1024.9 1299.1,1026.1 1299.7,1028.7 1299.8,1029.5 1300.0,1032.0 1300.1,1034.0 1300.2,1035.1 1300.3,1036.4 1300.5,1038.1 1300.6,1039.3 1300.7,1040.4 1300.8,1042.9 1301.0,1044.5 1301.1,1045.4 1301.2,1047.7 1301.3,1049.5 1301.5,1050.3 1301.6,1052.5 1301.9,1053.4 1302.1,1055.2 1302.4,1057.3 1302.6,1059.0 1302.9,1060.6 1303.2,1061.9 1303.4,1063.2 1303.7,1064.2 1303.9,1065.4 1304.2,1067.3 1304.5,1068.4 1304.7,1070.4 1305.0,1071.3 1305.2,1073.1 1305.5,1074.4 1305.7,1077.0 1305.9,1078.1 1306.1,1079.9 1306.3,1081.1 1306.5,1083.1 1306.7,1084.0 1306.9,1085.5 1307.1,1086.3 1307.3,1088.4 1307.6,1089.6 1307.8,1092.4 1308.0,1092.9 1308.2,1094.5 1308.4,1095.6 1308.6,1097.6 1308.8,1099.2 1309.0,1101.3 1309.2,1102.7 1309.4,1103.4 1309.6,1105.2 1309.7,1107.5 1309.9,1108.6 1310.0,1110.5 1310.2,1111.4 1310.3,1112.4 1310.5,1115.2 1310.6,1116.2 1310.8,1118.1 1310.9,1119.5 1311.1,1121.2 1311.2,1122.6 1311.4,1123.1 1311.5,1124.3 1311.7,1127.2 1311.8,1128.7 1312.0,1129.8 1312.1,1131.7 1312.3,1132.0 1312.6,1134.6 1312.9,1135.8 1313.2,1137.8 1313.5,1137.9 1313.8,1140.1 1314.1,1142.3 1314.4,1143.4 1314.7,1144.5 1315.0,1146.2 1315.3,1147.4 1315.6,1149.6 1315.9,1151.1 1316.2,1152.5 1316.5,1154.7 1316.8,1155.4 1317.1,1156.9 1317.4,1157.9 1317.7,1159.4 1318.0,1161.7 1318.2,1163.2 1318.5,1164.2 1318.8,1166.0 1319.1,1168.3 1319.4,1169.7 1319.7,1170.0 1320.0,1171.8 1320.3,1173.2 1320.6,1175.7 1320.8,1177.1 1321.1,1178.0 1321.4,1179.3 1321.7,1181.2 1322.0,1182.7 1322.2,1184.4 1322.5,1185.2 1322.8,1186.8 1323.1,1187.8 1323.3,1189.9 1323.6,1191.1 1323.9,1193.9 1324.9,1195.3 1325.8,1196.4 1326.8,1198.2 1327.8,1199.2 1329.2,1197.7 1330.7,1197.3 1332.1,1195.8 1333.6,1194.8 1334.2,1194.3 1334.9,1191.6 1335.5,1190.3 1336.2,1188.7 1336.8,1187.6 1337.5,1185.8 1338.1,1184.0 1338.8,1182.8 1339.4,1180.7 1339.7,1180.2 1340.0,1178.7 1340.3,1176.2 1340.6,1174.2 1340.9,1173.1 1341.2,1172.6 1341.5,1171.1 1341.8,1168.1 1342.1,1167.4 1342.5,1165.9 1342.8,1164.6 1343.1,1162.7 1343.4,1160.7 1343.7,1160.0 1344.0,1158.7 1344.3,1156.6 1344.6,1155.0 1344.9,1153.3 1345.2,1151.7 1345.5,1150.5 1345.8,1149.4 1346.0,1148.6 1346.3,1146.6 1346.6,1145.1 1346.9,1143.3 1347.2,1141.9 1347.5,1140.9 1347.7,1139.2 1348.0,1137.4 1348.3,1135.4 1348.6,1133.9 1348.9,1133.0 1349.2,1131.5 1349.4,1129.7 1349.7,1128.7 1350.0,1126.7 1350.2,1125.1 1350.4,1124.7 1350.7,1122.8 1350.9,1122.0 1351.1,1119.0 1351.3,1118.3 1351.6,1117.2 1351.8,1114.7 1352.0,1114.1 1352.2,1111.7 1352.5,1111.0 1352.7,1109.3 1352.9,1107.8 1353.1,1105.9 1353.3,1105.4 1353.6,1103.3 1353.8,1101.8 1354.0,1100.4 1354.2,1099.4 1354.5,1097.8 1354.7,1096.1 1354.9,1095.0 1355.1,1092.9 1355.3,1092.2 1355.5,1089.9 1355.7,1088.6 1355.9,1086.3 1356.2,1085.2 1356.4,1084.5 1356.6,1081.5 1356.8,1080.9 1357.0,1079.0 1357.2,1077.9 1357.4,1076.8 1357.6,1074.7 1357.8,1072.5 1358.0,1071.6 1358.2,1069.9 1358.4,1069.0 1358.7,1066.4 1358.9,1065.5 1359.1,1063.8 1359.3,1061.4 1359.5,1060.1 1359.7,1059.2 1359.9,1057.6 1360.0,1055.4 1360.2,1054.1 1360.3,1053.1 1360.5,1052.0 1360.6,1050.2 1360.8,1048.5 1360.9,1046.7 1361.1,1045.1 1361.3,1043.2 1361.4,1042.7 1361.6,1040.3 1361.7,1038.9 1361.9,1037.0 1362.0,1035.5 1362.2,1034.2 1362.4,1033.0 1362.5,1030.6 1362.7,1029.3 1362.8,1028.0 1363.0,1026.6 1363.1,1025.2 1363.3,1023.4 1363.4,1021.8 1363.6,1019.9 1363.8,1019.3 1363.9,1017.9 1364.1,1015.8 1364.2,1013.5 1364.4,1013.0 1364.6,1011.0 1364.7,1010.1 1364.9,1008.1 1365.1,1006.2 1365.2,1005.9 1365.4,1003.6 1365.5,1002.8 1365.7,1000.4 1365.9,998.5 1366.0,997.0 1366.2,995.5 1366.4,995.1 1366.5,993.6 1366.7,991.4 1366.8,989.7 1367.0,987.8 1367.2,987.0 1367.3,986.0 1367.5,983.3 1367.6,982.5 1367.8,980.4 1367.9,979.3 1368.0,978.0 1368.1,975.7 1368.3,975.0 1368.4,974.1 1368.5,972.5 1368.6,971.2 1368.8,968.9 1368.9,967.3 1369.0,966.1 1369.1,964.1 1369.3,962.3 1369.4,961.6 1369.5,959.6 1369.6,958.3 1369.8,957.0 1369.9,955.2 1370.0,953.5 1370.1,953.0 1370.3,951.0 1370.4,949.8 1370.6,947.7 1370.8,947.1 1370.9,944.8 1371.1,943.2 1371.3,942.0 1371.5,940.3 1371.6,939.4 1371.8,936.9 1372.0,936.1 1372.2,934.0 1372.3,933.2 1372.5,932.1 1372.7,929.5 1372.9,928.9 1373.0,926.8 1373.2,926.1 1373.3,924.5 1373.4,923.1 1373.5,920.1 1373.6,919.1 1373.7,918.0 1373.8,916.8 1373.9,915.0 1374.0,913.9 1374.1,911.3 1374.2,909.8 1374.3,909.4 1374.5,907.5 1374.6,906.0 1374.7,903.6 1374.8,902.0 1374.9,900.7 1375.0,899.0 1375.1,898.2 1375.2,896.7 1375.3,894.9 1375.4,893.2 1375.5,891.7 1375.6,890.7 1375.7,889.6 1375.8,887.2 1376.0,885.6 1376.1,884.5 1376.2,883.3 1376.3,881.0 1376.4,880.5 1376.5,877.9 1376.7,876.9 1376.8,875.2 1376.9,873.3 1377.0,871.2 1377.1,870.2 1377.2,868.8 1377.4,866.8 1377.5,866.3 1377.6,863.4 1377.7,862.2 1377.8,860.4 1377.9,859.8 1378.0,857.4 1378.1,856.9 1378.2,855.0 1378.3,853.6 1378.4,852.5 1378.5,849.9 1378.6,849.6 1378.7,847.4 1378.8,845.9 1378.8,844.8 1378.9,843.5 1379.0,841.9 1379.1,839.9 1379.2,839.1 1379.3,836.0 1379.4,834.8 1379.5,833.4 1379.6,832.2 1379.7,830.8 1379.8,828.5 1379.9,827.3 1380.0,826.4 1380.1,825.2 1380.2,822.4 1380.3,821.1 1380.5,820.8 1380.6,818.7 1380.7,817.3 1380.8,814.8 1380.9,813.4 1381.0,813.1 1381.1,811.3 1381.2,810.4 1381.4,808.2 1381.5,807.0 1381.6,804.6 1381.7,804.1 1381.8,802.7 1381.9,801.2 1382.0,798.6 1382.2,797.9 1382.3,795.7 1382.4,794.2 1382.5,794.0 1382.6,792.4 1382.7,789.4 1382.8,789.2 1383.0,787.4 1383.1,785.6 1383.2,784.3 1383.3,782.1 1383.4,780.8 1383.5,779.7 1383.6,777.6 1383.8,777.0 1383.9,776.0 1384.0,774.5 1384.1,772.1 1384.2,770.0 1384.3,769.3 1384.4,767.0 1384.5,766.9 1384.7,764.8 1384.8,763.1 1384.9,762.3 1385.0,760.1 1385.1,759.2 1385.2,757.3 1385.4,755.3 1385.5,754.7 1385.6,752.0 1385.7,750.5 1385.8,749.5 1385.9,748.3 1386.1,747.0 1386.2,745.5 1386.3,743.4 1386.4,741.9 1386.5,741.4 1386.6,739.8 1386.8,737.7 1386.9,735.9 1387.0,735.2 1387.1,732.8 1387.2,731.2 1387.4,729.5 1387.5,728.0 1387.6,727.0 1387.7,725.6 1387.8,723.8 1387.9,723.3 1388.1,721.5 1388.2,720.1 1388.3,717.6 1388.4,717.3 1388.5,714.4 1388.7,712.9 1388.8,711.4 1388.9,710.7 1389.0,708.9 1389.1,707.1 1389.2,706.7 1389.4,703.9 1389.5,702.4 1389.6,702.3 1389.7,699.5 1389.8,698.3 1389.9,696.7 1390.1,695.7 1390.2,693.2 1390.3,692.6 1390.4,690.8 1390.5,688.8 1390.6,688.1 1390.7,686.2 1390.8,684.6 1390.9,683.2 1391.0,682.3 1391.1,679.8 1391.2,678.3 1391.2,677.1 1391.3,676.3 1391.4,673.7 1391.5,673.6 1391.6,671.5 1391.7,670.3 1391.8,668.4 1391.9,666.7 1392.0,664.7 1392.1,663.5 1392.2,661.8 1392.3,661.0 1392.4,659.4 1392.5,657.1 1392.6,655.5 1392.7,654.2 1392.8,653.9 1392.9,652.0 1392.9,651.1 1393.0,649.1 1393.1,646.9 1393.2,646.0 1393.3,645.1 1393.4,643.1 1393.5,641.0 1393.6,640.2 1393.7,638.3 1393.8,636.1 1393.9,635.9 1394.0,634.1 1394.1,631.5 1394.2,631.0 1394.3,628.9 1394.4,628.5 1394.5,626.7 1394.6,625.2 1394.6,623.8 1394.7,622.0 1394.8,620.7 1394.9,618.7 1395.0,617.8 1395.1,615.2 1395.2,615.1 1395.3,613.3 1395.4,611.9 1395.5,610.5 1395.6,608.2 1395.7,607.6 1395.8,605.5 1395.9,603.8 1396.0,602.8 1396.1,600.5 1396.2,599.7 1396.3,597.7 1396.4,596.8 1396.5,595.0 1396.6,593.3 1396.7,592.2 1396.8,589.8 1396.9,589.5 1397.0,586.9 1397.1,585.8 1397.2,583.7 1397.3,582.6 1397.4,581.4 1397.5,580.3 1397.6,578.1 1397.7,576.5 1397.8,575.8 1397.9,573.7 1398.0,572.4 1398.1,570.3 1398.2,568.8 1398.3,567.1 1398.4,566.5 1398.5,565.3 1398.6,562.4 1398.7,561.2 1398.8,559.4 1398.9,557.8 1399.0,556.6 1399.1,555.0 1399.2,554.3 1399.3,552.5 1399.4,551.6 1399.5,549.8 1399.6,547.3 1399.7,546.2 1399.8,544.6 1399.9,543.7 1400.0,541.5 1400.1,539.7 1400.2,538.8 1400.3,536.7 1400.4,535.0 1400.5,534.5 1400.6,533.0 1400.7,531.3 1400.8,529.8 1400.9,527.7 1401.0,527.4 1401.1,524.8 1401.2,523.4 1401.3,522.8 1401.4,520.9 1401.5,518.3 1401.6,517.9 1401.7,516.6 1401.8,513.9 1401.9,512.3 1402.0,512.0 1402.1,509.2 1402.2,507.9 1402.3,506.6 1402.4,504.7 1402.5,503.2 1402.6,503.0 1402.7,500.7 1402.8,498.6 1402.9,497.5 1403.0,496.7 1403.1,494.2 1403.3,492.8 1403.4,491.3 1403.5,490.3 1403.6,488.9 1403.7,487.0 1403.8,486.0 1403.9,484.5 1404.0,481.9 1404.1,481.3 1404.2,479.5 1404.3,478.5 1404.4,476.1 1404.5,474.2 1404.6,474.1 1404.7,472.2 1404.8,469.9 1404.9,469.2 1405.0,467.3 1405.1,465.4 1405.2,463.7 1405.3,462.6 1405.4,461.6 1405.5,459.9 1405.6,458.0 1405.7,457.4 1405.8,455.8 1405.9,454.1 1406.0,452.2 1406.1,451.4 1406.2,449.8 1406.3,446.9 1406.4,446.7 1406.5,444.8 1406.6,442.9 1406.7,441.1 1406.8,440.1 1406.9,438.8 1407.0,437.2 1407.1,435.6 1407.2,433.2 1407.3,432.2 1407.4,431.0 1407.5,429.0 1407.6,428.3 1407.7,426.9 1407.8,425.4 1407.9,422.5 1408.0,421.8 1408.1,420.8 1408.2,418.4 1408.3,416.7 1408.5,415.8 1408.6,413.4 1408.7,412.6 1408.8,410.5 1408.9,408.9 1409.0,408.4 1409.1,406.7 1409.2,405.2 1409.3,404.1 1409.4,401.3 1409.5,400.9 1409.6,398.4 1409.7,397.1 1409.8,396.5 1409.9,393.5 1410.0,393.1 1410.1,390.5 1410.2,389.7 1410.3,388.9 1410.4,386.7 1410.5,385.5 1410.6,384.1 1410.7,381.5 1410.8,380.6 1410.9,378.8 1411.0,377.1 1411.1,376.6 1411.2,375.2 1411.4,373.6 1411.5,371.2 1411.6,370.0 1411.7,369.1 1411.9,367.0 1412.0,366.3 1412.1,364.1 1412.2,362.0 1412.3,360.8 1412.5,359.9 1412.6,357.3 1412.7,357.0 1412.8,355.5 1413.0,354.0 1413.1,351.9 1413.2,349.8 1413.3,349.4 1413.4,346.8 1413.6,346.1 1413.7,343.8 1413.8,342.2 1413.9,341.1 1414.1,340.3 1414.2,338.9 1414.3,337.1 1414.4,334.7 1414.5,333.6 1414.7,332.9 1414.8,331.0 1414.9,329.4 1415.0,328.5 1415.2,326.6 1415.3,325.8 1415.4,322.9 1415.5,322.2 1415.6,320.3 1415.8,318.3 1415.9,317.9 1416.0,316.2 1416.1,314.8 1416.3,312.3 1416.4,312.0 1416.5,310.9 1416.6,308.5 1416.7,306.3 1416.8,305.1 1417.0,304.3 1417.1,302.9 1417.2,300.6 1417.3,299.4 1417.4,297.8 1417.5,297.0 1417.7,295.3 1417.8,294.1 1417.9,292.5 1418.0,290.3 1418.1,288.2 1418.2,286.7 1418.3,285.2 1418.5,283.7 1418.6,283.0 1418.7,280.8 1418.8,279.9 1418.9,277.6 1419.0,277.2 1419.2,274.4 1419.3,273.9 1419.4,272.5 1419.5,271.1 1419.6,269.0 1419.7,267.8 1419.9,265.7 1420.0,263.7 1420.1,262.9 1420.2,261.2 1420.4,260.2 1420.5,258.7 1420.7,257.0 1420.8,254.5 1421.0,254.4 1421.1,251.9 1421.2,251.4 1421.4,249.8 1421.5,248.0 1421.7,245.6 1421.9,244.0 1422.0,243.5 1422.2,241.2 1422.3,240.3 1422.5,239.2 1422.6,236.7 1422.8,236.2 1422.9,233.9 1423.1,233.2 1423.2,231.0 1423.4,229.8 1423.5,227.3 1423.7,226.5 1423.8,225.2 1424.0,223.5 1424.1,221.5 1424.2,220.9 1424.4,219.7 1424.6,218.4 1424.8,215.6 1425.0,214.9 1425.2,213.4 1425.4,212.3 1425.5,209.5 1425.7,208.4 1425.9,207.5 1426.1,205.1 1426.3,204.1 1426.5,203.0 1426.7,201.9 1426.9,199.9 1427.1,198.3 1427.3,197.3 1427.5,195.1 1427.6,193.8 1427.8,191.6 1428.0,190.1 1428.2,188.8 1428.4,187.6 1428.6,186.3 1428.8,184.2 1429.1,183.4 1429.3,181.1 1429.5,179.7 1429.7,179.0 1430.0,177.3 1430.2,175.5 1430.4,174.0 1430.6,172.8 1430.9,170.4 1431.1,169.7 1431.3,168.3 1431.5,166.1 1431.6,164.9 1431.8,163.2 1432.0,162.8 1432.2,160.5 1432.4,158.3 1432.5,157.3 1432.7,155.9 1432.9,153.7 1433.1,152.5 1433.2,152.0 1433.4,150.1 1433.6,148.3 1433.8,146.8 1434.0,146.0 1434.1,143.3 1434.3,142.1 1434.5,141.1 1435.2,139.3 1435.9,138.3 1436.6,136.7 1437.4,135.2 1438.1,133.6 1438.8,132.1 1439.5,129.7 1439.8,128.8 1440.2,127.3 1440.5,126.3 1440.9,124.7 1441.2,122.0 1441.6,121.3 1442.0,120.5 1442.3,117.8 1442.7,116.4 1443.0,115.8 1443.4,113.3 1443.7,111.7 1445.8,111.1 1447.9,110.3 1448.3,108.6 1448.7,106.9 1449.2,104.5 1449.6,103.9 1450.0,101.7 1450.4,100.3 1451.0,90.0 1452.1,79.5 1453.0,99.0 1454.2,99.0 1455.4,90.0 1456.7,99.0 1457.8,99.0 1458.6,79.5 1459.7,90.0 1460.9,79.5 1461.9,99.0 1463.2,99.0 1464.3,90.0 1465.4,79.5 1466.5,90.0 1467.4,90.0 1468.4,79.5 1470.4,79.5 1472.4,79.5 1474.4,79.5 1476.4,79.5 1478.4,79.5 1480.4,79.5 1482.4,79.5 1484.4,79.5 1486.4,79.5 1487.0,79.5 1487.5,99.4 1488.5,99.4 1489.0,79.5 1489.5,79.5 1491.5,79.5 1493.5,79.5 1495.5,79.5 1497.5,79.5 1499.5,79.5 1501.5,79.5 1503.5,79.5 1505.5,79.5 1507.5,79.5 1509.5,79.5 1511.5,79.5 1513.5,79.5 1515.5,79.5 1517.5,79.5 1519.4,79.5 1519.9,99.4 1520.9,99.4 1521.4,79.5 1521.9,79.5 1523.9,79.5 1525.9,79.5 1527.9,79.5 1529.9,79.5 1531.9,79.5 1533.9,79.5 1535.9,79.5 1537.9,79.5 1539.9,79.5 1541.9,79.5 1543.9,79.5 1545.9,79.5 1547.9,79.5 1549.9,79.5 1551.2,79.5 1551.7,99.4 1552.7,99.4 1553.2,79.5 1553.7,79.5 1555.7,79.5 1557.7,79.5 1559.7,79.5 1561.7,79.5 1563.7,79.5 1565.7,79.5 1566.3,79.5 1566.8,99.4 1567.8,99.4 1568.3,79.5 1568.8,79.5 1570.8,79.5 1572.8,79.5 1574.8,79.5 1576.8,79.5 1578.8,79.5 1580.8,79.5 1582.8,79.5 1584.8,79.5 1586.8,79.5 1588.8,79.5 1590.8,79.5 1592.8,79.5 1594.8,79.5 1596.5,79.5 1597.0,99.4 1598.0,99.4 1598.5,79.5 1599.0,79.5 1601.0,79.5 1603.0,79.5 1605.0,79.5 1607.0,79.5 1609.0,79.5 1611.0,79.5 1613.0,79.5 1615.0,79.5 1616.6,79.5 1617.1,99.4 1618.1,99.4 1618.6,79.5 1619.1,79.5 1621.1,79.5 1623.1,79.5 1625.1,79.5 1627.1,79.5 1629.1,79.5 1631.1,79.5 1633.1,79.5 1635.1,79.5 1637.1,79.5 1638.3,79.5 1638.8,99.4 1639.8,99.4 1640.3,79.5 1640.8,79.5 1642.8,79.5 1644.8,79.5 1646.8,79.5 1648.8,79.5 1650.8,79.5 1652.8,79.5 1654.8,79.5 1656.8,79.5 1658.8,79.5 1660.1,79.5 1660.6,99.4 1661.6,99.4 1662.1,79.5 1662.6,79.5 1664.6,79.5 1666.6,79.5 1668.6,79.5 1670.6,79.5 1672.6,79.5 1674.6,79.5 1676.6,79.5 1678.6,79.5 1680.6,79.5 1682.6,79.5 1684.6,79.5 1686.6,79.5 1688.6,79.5 1690.6,79.5 1692.6,79.5 1694.6,79.5 1696.0,79.5 1696.5,99.4 1697.5,99.4 1698.0,79.5 1725.0,79.5 1726.8,79.5 1727.4,64.0 1729.0,64.0"/>
<polyline stroke="#9A0000" points="180.0,30.0 181.0,52.0 181.5,80.5 182.0,49.0 182.8,71.1 183.9,80.8 185.0,64.4 186.4,80.8 187.6,49.0 188.8,73.5 190.0,68.2 191.0,62.5 192.2,80.8 193.6,78.4 194.4,80.8 195.4,59.9 196.7,80.8 197.9,80.8 199.1,75.9 200.5,80.8 201.6,80.8 202.6,71.6 203.7,80.8 204.6,80.8 205.5,63.7 206.6,69.5 207.5,76.4 208.4,80.8 209.6,80.8 210.4,65.1 211.5,63.6 212.3,62.8 213.5,71.4 214.7,69.9 215.7,49.0 217.0,80.8 218.4,56.8 219.7,80.8 220.9,67.4 221.8,80.8 222.7,49.0 223.5,73.1 224.7,71.0 225.6,80.8 226.9,64.9 227.9,74.1 228.9,49.0 230.1,80.8 231.3,63.0 232.3,80.8 233.6,75.7 234.9,80.8 235.9,56.1 236.8,77.2 237.7,49.0 239.1,49.0 240.1,49.0 241.4,54.7 242.3,78.9 243.3,78.4 244.2,72.5 245.6,49.0 247.0,49.0 247.9,72.6 249.0,77.0 250.4,49.0 251.4,70.1 252.3,80.8 253.4,65.6 254.3,67.0 255.2,49.0 256.0,66.0 257.0,80.5 258.5,72.0 260.0,80.5 263.3,80.5 263.6,49.0 265.8,49.0 266.1,80.5 268.0,80.5 270.0,64.0 272.5,62.0 274.5,80.5 276.0,80.5 277.5,74.0 279.0,80.5 283.3,80.5 283.6,49.0 286.2,49.0 286.5,80.5 289.0,80.5 290.5,70.0 292.0,80.5 297.3,80.5 297.6,49.0 300.2,49.0 300.5,80.5 301.0,79.5 302.0,79.5 305.0,79.5 308.0,79.5 311.0,79.5 314.0,79.5 317.0,79.5 320.0,79.5 323.0,79.5 326.0,79.5 329.0,79.5 332.0,79.5 335.0,79.5 338.0,79.5 341.0,79.5 344.0,79.5 347.0,79.5 350.0,79.5 352.5,79.5 352.8,96.0 356.5,96.0 356.8,79.5 365.0,79.5 365.3,110.0 367.5,110.0 367.8,79.5 375.0,79.5 375.3,110.0 377.5,110.0 377.8,79.5 380.0,79.5 383.0,99.6 383.7,99.6 383.9,86.9 384.6,86.9 384.8,79.5 385.7,79.5 385.9,95.0 386.5,95.0 386.7,79.5 387.5,79.5 387.7,110.0 388.8,110.0 388.9,92.7 389.9,92.7 390.0,79.5 390.5,79.5 390.6,93.0 391.2,93.0 391.4,79.5 392.2,79.5 392.4,90.8 393.1,90.8 393.2,110.0 393.6,110.0 393.7,79.5 394.3,79.5 394.5,84.7 395.1,84.7 395.3,84.8 396.0,84.8 396.2,79.5 396.6,79.5 396.8,92.8 397.4,92.8 397.5,90.7 398.3,90.7 398.4,110.0 399.5,110.0 399.7,87.4 400.6,87.4 400.7,87.3 401.6,87.3 401.7,92.0 402.2,92.0 402.4,84.1 403.3,84.1 403.4,79.5 404.3,79.5 404.4,86.6 405.0,86.6 405.2,98.5 406.3,98.5 406.4,92.9 407.3,92.9 407.5,79.5 408.4,79.5 408.6,85.2 409.4,85.2 409.6,92.1 410.1,92.1 410.2,84.0 410.9,84.0 411.0,110.0 411.6,110.0 411.8,79.5 412.5,79.5 412.6,94.4 413.2,94.4 413.4,84.6 414.2,84.6 414.3,89.8 414.7,89.8 414.9,94.7 415.7,94.7 415.9,79.5 416.7,79.5 416.8,88.6 417.6,88.6 417.7,110.0 419.0,110.0 419.1,87.5 419.5,87.5 419.7,90.4 420.2,90.4 420.4,86.2 420.9,86.2 421.1,93.3 421.8,93.3 421.9,79.5 422.6,79.5 422.8,79.5 423.3,79.5 423.5,79.5 424.2,79.5 424.4,110.0 424.8,110.0 425.0,95.1 425.7,95.1 425.8,79.5 426.6,79.5 426.8,93.6 427.5,93.6 427.7,89.1 428.6,89.1 428.7,110.0 428.9,110.0 429.1,86.2 430.0,86.2 430.2,93.3 431.0,93.3 431.2,85.8 432.1,85.8 432.2,79.5 433.2,79.5 433.3,90.8 434.2,90.8 434.3,100.3 435.6,100.3 435.7,87.9 436.4,87.9 436.6,95.8 437.4,95.8 437.6,84.7 438.0,84.7 438.2,90.4 438.7,90.4 438.8,79.5 439.3,79.5 439.5,92.6 440.3,92.6 440.4,104.0 441.7,104.0 441.8,91.0 442.6,91.0 442.7,86.4 443.3,86.4 443.5,89.8 444.1,89.8 444.3,79.5 445.1,79.5 445.2,79.5 445.7,79.5 445.8,91.1 446.4,91.1 446.5,110.0 447.7,110.0 447.8,79.5 448.3,79.5 448.5,89.5 449.0,89.5 449.2,79.5 450.1,79.5 450.2,79.5 451.0,79.5 451.1,90.6 452.0,90.6 452.1,90.2 453.1,90.2 453.2,100.2 453.7,100.2 453.9,88.9 454.8,88.9 454.9,84.7 455.7,84.7 455.9,89.4 456.7,89.4 456.8,79.5 457.4,79.5 457.6,79.5 458.2,79.5 458.3,92.1 459.3,92.1 459.4,110.0 460.4,110.0 460.6,88.6 461.5,88.6 461.6,95.6 462.5,95.6 462.6,86.4 463.2,86.4 463.3,87.4 464.2,87.4 464.4,110.0 465.1,110.0 465.2,86.0 465.9,86.0 466.1,91.4 467.1,91.4 467.2,79.5 467.9,79.5 468.0,93.4 468.5,93.4 468.7,79.5 469.5,79.5 469.6,110.0 470.1,110.0 470.2,79.5 470.8,79.5 471.0,79.5 471.6,79.5 471.8,94.9 472.2,94.9 472.4,87.9 473.1,87.9 473.3,90.9 474.0,90.9 474.2,103.1 475.5,103.1 475.6,84.3 476.6,84.3 476.7,79.5 477.2,79.5 477.3,79.5 477.9,79.5 478.0,79.5 479.0,79.5 479.1,95.2 480.1,95.2 480.2,95.8 480.9,95.8 481.1,110.0 482.0,110.0 482.2,79.5 482.8,79.5 482.9,79.5 483.6,79.5 483.7,88.5 484.2,88.5 484.3,79.5 484.9,79.5 485.1,79.5 486.0,79.5 486.1,84.2 487.0,84.2 487.1,94.0 488.0,94.0 488.1,110.0 489.3,110.0 489.5,93.1 490.2,93.1 490.4,91.8 490.8,91.8 491.0,79.5 491.7,79.5 491.8,84.6 492.8,84.6 492.9,84.3 493.8,84.3 494.0,110.0 494.2,110.0 494.4,91.4 495.2,91.4 495.4,90.3 495.9,90.3 496.1,94.3 496.9,94.3 497.0,85.4 497.8,85.4 498.0,79.5 498.8,79.5 498.9,99.6 499.3,99.6 499.4,79.5 500.1,79.5 500.3,95.7 501.0,95.7 501.2,93.1 502.0,93.1 502.2,85.4 502.9,85.4 503.1,79.5 504.0,79.5 504.1,93.7 505.1,93.7 505.3,110.0 505.9,110.0 506.0,93.0 506.6,93.0 506.7,94.7 507.6,94.7 507.8,93.8 508.8,93.8 508.9,79.5 509.5,79.5 509.7,79.5 510.3,79.5 510.5,79.5 511.0,79.5 511.2,88.0 511.7,88.0 511.8,110.0 512.8,110.0 513.0,79.5 513.7,79.5 513.9,79.5 514.3,79.5 514.5,86.7 515.0,86.7 515.2,93.0 515.7,93.0 515.8,79.5 516.7,79.5 516.9,79.5 517.6,79.5 517.8,105.1 518.0,105.1 518.1,79.5 519.0,79.5 519.1,79.5 519.7,79.5 519.9,79.5 520.4,79.5 520.5,88.4 521.0,88.4 521.2,79.5 521.7,79.5 521.9,96.7 522.3,96.7 522.4,79.5 523.2,79.5 523.4,79.5 524.1,79.5 524.2,79.5 524.6,79.5 524.8,79.5 525.6,79.5 525.7,92.8 526.6,92.8 526.8,99.8 527.6,99.8 527.8,94.5 528.3,94.5 528.4,88.8 529.2,88.8 529.4,90.6 530.3,90.6 530.5,79.5 531.0,79.5 531.1,79.5 531.6,79.5 531.7,110.0 533.0,110.0 533.1,79.5 533.9,79.5 534.1,84.9 534.9,84.9 535.1,88.0 535.7,88.0 535.9,79.5 536.5,79.5 536.7,86.4 537.3,86.4 537.5,110.0 538.5,110.0 538.6,95.2 539.3,95.2 539.4,95.1 540.0,95.1 540.1,89.8 540.9,89.8 541.0,89.1 541.7,89.1 541.9,84.3 542.3,84.3 542.4,79.5 543.4,79.5 543.5,101.9 544.8,101.9 544.9,95.7 545.9,95.7 546.0,88.8 546.6,88.8 546.7,94.2 547.3,94.2 547.5,79.5 548.1,79.5 548.3,79.5 548.9,79.5 549.0,79.5 550.0,79.5 550.2,110.0 550.6,110.0 550.7,84.5 551.5,84.5 551.6,94.7 552.1,94.7 552.2,79.5 553.2,79.5 553.3,89.2 554.2,89.2 554.3,79.5 555.0,79.5 555.1,87.0 555.9,87.0 556.1,86.4 556.5,86.4 556.7,102.1 557.2,102.1 557.4,86.3 558.0,86.3 558.2,79.5 558.8,79.5 558.9,92.8 559.4,92.8 559.5,79.5 560.5,79.5 560.6,79.5 561.5,79.5 561.6,88.4 562.6,88.4 562.8,85.6 563.5,85.6 563.7,110.0 565.0,110.0 565.2,93.3 565.9,93.3 566.0,84.1 567.0,84.1 567.1,89.9 568.1,89.9 568.2,92.0 568.7,92.0 568.8,79.5 569.3,79.5 569.4,79.5 570.3,79.5 570.5,79.5 571.3,79.5 571.4,104.3 572.1,104.3 572.2,92.2 572.9,92.2 573.0,79.5 573.7,79.5 573.8,79.5 574.4,79.5 574.5,84.9 575.2,84.9 575.4,79.5 576.2,79.5 576.3,94.1 577.2,94.1 577.4,104.6 578.6,104.6 578.7,79.5 579.2,79.5 579.4,84.7 580.4,84.7 580.5,95.6 581.1,95.6 581.2,79.5 581.6,79.5 581.8,79.5 582.4,79.5 582.6,79.5 583.3,79.5 583.5,86.4 584.0,86.4 584.2,79.5 585.2,79.5 585.3,110.0 586.7,110.0 586.8,90.1 587.8,90.1 588.0,79.5 588.5,79.5 588.6,85.1 589.6,85.1 589.8,79.5 590.3,79.5 590.4,79.5 591.1,79.5 591.2,110.0 592.0,110.0 592.1,86.8 592.9,86.8 593.0,87.2 593.5,87.2 593.6,87.0 594.4,87.0 594.5,84.1 595.1,84.1 595.2,87.9 596.2,87.9 596.3,79.5 597.1,79.5 597.3,99.9 597.8,99.9 597.9,87.5 598.6,87.5 598.7,84.2 599.7,84.2 599.8,91.9 600.4,91.9 600.6,91.8 601.3,91.8 601.5,92.0 602.3,92.0 602.4,105.9 603.5,105.9 603.6,89.4 604.1,89.4 604.3,84.1 604.8,84.1 604.9,92.4 605.6,92.4 605.7,79.5 606.6,79.5 606.7,88.0 607.2,88.0 607.4,79.5 608.4,79.5 608.5,96.6 609.0,96.6 609.2,95.9 610.2,95.9 610.3,92.8 610.8,92.8 611.0,79.5 611.4,79.5 611.5,79.5 612.0,79.5 612.1,79.5 612.8,79.5 612.9,104.7 613.7,104.7 613.8,79.5 614.5,79.5 614.7,88.3 615.2,88.3 615.3,79.5 616.0,79.5 616.1,89.5 617.1,89.5 617.2,88.1 617.7,88.1 617.9,89.1 618.8,89.1 619.0,94.1 619.5,94.1 619.6,110.0 620.8,110.0 621.0,86.7 621.9,86.7 622.0,87.2 622.7,87.2 622.9,91.0 623.7,91.0 623.9,86.8 624.7,86.8 624.8,79.5 625.3,79.5 625.5,79.5 626.3,79.5 626.5,98.3 627.6,98.3 627.8,79.5 628.3,79.5 628.5,79.5 629.2,79.5 629.3,90.6 630.1,90.6 630.2,79.5 630.8,79.5 630.9,86.8 631.3,86.8 631.5,88.4 632.4,88.4 632.5,100.1 632.9,100.1 633.1,79.5 633.5,79.5 633.6,94.3 634.6,94.3 634.7,89.9 635.7,89.9 635.9,85.9 636.4,85.9 636.6,79.5 637.5,79.5 637.6,92.8 638.3,92.8 638.5,84.5 639.3,84.5 639.5,101.3 639.9,101.3 640.0,79.5 640.5,79.5 640.7,79.5 641.3,79.5 641.5,88.7 642.0,88.7 642.2,79.5 642.8,79.5 643.0,79.5 643.5,79.5 643.6,87.6 644.5,87.6 644.7,86.1 645.6,86.1 644.0,97.1 645.5,99.8 647.0,100.1 648.5,101.7 650.0,102.8 650.8,104.6 651.7,105.9 652.5,109.0 653.3,110.2 654.1,112.2 655.0,113.7 655.8,113.8 657.2,116.7 658.6,116.7 660.0,115.2 661.4,116.9 662.8,117.8 664.2,118.9 665.6,119.3 667.0,118.1 668.4,121.1 669.5,111.6 669.8,122.8 670.1,111.6 669.8,119.2 671.1,120.5 672.3,122.6 673.6,124.3 674.9,125.9 676.2,126.3 677.4,126.1 678.7,127.7 680.0,129.6 681.3,130.3 682.5,131.8 683.8,133.6 685.1,134.3 686.3,135.4 687.6,134.8 688.9,134.8 690.1,135.7 690.4,136.8 690.7,149.3 691.0,136.8 691.4,136.2 692.6,139.5 693.9,139.8 695.2,139.7 696.4,141.1 697.7,140.2 699.0,140.4 700.2,139.8 701.5,140.4 702.8,143.5 704.1,145.1 705.3,148.1 706.6,149.6 707.9,153.1 709.2,153.9 710.4,153.9 711.7,155.1 713.1,155.3 714.5,153.5 715.9,154.3 717.3,154.9 718.7,152.7 720.0,155.2 721.4,156.5 722.8,157.6 724.2,158.8 725.6,162.0 726.9,162.1 728.1,162.2 729.4,165.6 730.7,166.5 732.0,167.9 733.2,166.9 734.5,169.8 735.8,170.4 737.1,170.2 738.3,171.7 739.6,170.8 741.1,168.2 742.7,167.6 744.2,171.2 745.8,172.9 747.3,175.2 748.9,173.8 750.4,172.3 752.0,173.4 753.5,171.0 754.9,172.4 756.3,174.2 756.7,173.0 757.0,183.0 757.3,173.0 757.7,176.0 759.1,176.9 760.5,177.7 761.9,181.0 763.3,178.9 764.7,177.6 766.1,178.4 767.5,177.7 768.9,178.9 770.3,180.1 771.7,180.3 773.1,181.7 774.5,182.8 775.9,185.0 777.3,185.8 778.7,187.0 780.1,187.8 781.5,190.0 782.9,191.5 784.3,190.4 785.7,190.8 787.1,190.7 788.5,189.7 789.8,190.4 791.2,190.1 792.6,189.5 794.0,190.1 795.4,191.3 796.7,192.5 797.9,193.4 799.2,196.5 800.5,199.8 801.8,200.5 803.0,201.0 804.3,201.5 805.6,203.3 806.9,204.0 808.1,204.9 809.4,204.3 810.7,206.3 811.9,207.2 813.2,205.9 814.5,206.6 815.7,209.6 817.0,210.7 818.2,211.0 819.5,210.7 820.8,212.5 822.0,213.6 823.3,216.1 824.5,217.4 825.6,218.7 826.8,221.8 828.0,221.2 829.1,221.6 830.3,224.6 831.5,224.7 832.6,223.7 833.8,223.9 835.0,222.7 836.1,222.5 837.3,225.9 838.4,225.5 839.5,228.8 840.6,229.0 841.7,229.1 842.8,232.3 843.9,233.8 845.0,233.2 845.9,234.9 846.9,237.7 847.8,239.9 848.7,240.7 849.6,244.8 850.5,247.1 851.5,249.0 852.4,249.5 853.3,248.7 854.2,248.9 855.2,249.1 856.1,249.7 857.2,251.0 858.3,253.4 859.3,253.0 860.4,257.1 861.5,255.7 862.6,258.9 863.6,261.3 864.7,263.6 865.5,261.4 865.8,267.9 866.1,261.4 865.8,265.6 866.7,266.7 867.7,265.7 868.6,266.1 869.5,268.1 870.4,269.4 871.4,270.7 872.3,270.8 873.4,274.2 874.4,274.8 875.5,274.7 876.6,277.5 877.7,280.1 878.7,280.1 879.8,281.3 880.9,284.7 882.0,285.5 883.0,288.2 884.1,287.8 885.2,289.5 886.3,288.8 887.3,287.5 888.4,287.8 889.4,290.0 890.4,288.8 891.4,292.1 892.5,292.3 893.5,296.1 894.5,296.8 895.5,298.4 896.5,298.7 897.5,298.2 898.5,299.1 899.5,298.9 900.5,300.8 901.6,305.6 902.6,306.0 903.6,308.8 904.3,306.6 904.6,313.0 904.9,306.6 904.6,309.3 905.6,310.0 906.6,309.9 907.6,311.5 908.6,312.4 909.6,312.8 910.6,314.4 911.6,316.5 912.7,316.6 913.7,318.4 914.7,319.8 915.7,318.8 916.7,320.0 917.7,323.0 918.7,323.8 919.7,324.8 920.7,324.4 921.9,325.6 923.2,328.2 924.4,329.5 925.7,330.5 926.9,329.8 928.1,332.0 929.4,333.3 930.6,331.5 931.8,332.1 933.1,332.1 934.3,334.0 935.6,333.7 936.8,334.5 938.4,333.6 940.0,334.4 941.7,336.6 943.3,335.6 944.9,333.6 946.5,332.8 948.1,335.9 949.8,337.0 951.4,338.1 953.0,339.3 954.1,335.8 955.3,334.2 956.4,330.1 957.6,329.3 958.7,330.1 959.9,330.2 961.0,328.5 961.7,327.6 962.5,325.9 963.2,323.4 963.9,320.6 964.7,320.1 965.4,318.8 966.2,317.7 966.9,317.1 967.6,317.6 968.4,316.5 969.1,317.1 969.6,315.1 970.2,313.2 970.7,312.5 971.3,310.1 971.8,307.7 972.3,305.3 972.9,303.2 973.4,303.0 974.0,302.1 974.5,300.7 975.0,298.9 975.6,295.4 976.1,293.6 976.7,292.1 977.2,291.4 977.7,290.4 978.2,288.9 978.7,286.4 979.2,285.2 979.7,285.2 980.2,281.8 980.7,282.3 981.2,279.9 981.8,278.2 982.3,279.2 982.8,277.9 983.3,276.9 983.8,275.8 984.3,272.9 984.8,272.3 985.3,270.8 985.8,270.7 986.4,268.6 986.9,267.1 987.4,265.1 988.0,265.7 988.5,261.9 989.0,261.7 989.6,259.7 990.1,259.3 990.6,256.5 991.2,256.3 991.7,254.8 992.2,250.8 992.8,251.5 993.3,249.1 993.8,247.1 994.4,244.6 994.9,242.9 995.5,240.4 996.0,238.8 996.5,239.2 997.1,235.4 997.6,235.4 998.2,232.5 998.7,231.2 999.2,228.9 999.8,229.3 1000.3,227.8 1000.9,226.3 1001.4,225.4 1002.1,223.7 1002.9,223.8 1003.6,222.8 1004.3,220.1 1005.1,218.5 1005.8,217.3 1006.6,216.2 1007.3,214.9 1008.0,213.8 1008.8,211.3 1009.5,210.7 1010.5,210.1 1011.5,209.1 1012.5,208.5 1013.5,207.7 1014.5,206.8 1015.5,205.9 1016.5,204.8 1017.5,203.8 1019.1,202.8 1020.7,201.3 1022.4,200.9 1024.0,200.1 1025.6,200.7 1027.2,201.3 1028.8,201.3 1030.5,202.1 1032.1,202.5 1033.7,202.5 1035.3,202.9 1036.9,202.7 1038.5,203.1 1040.1,205.3 1041.7,205.9 1042.9,207.2 1044.0,208.1 1045.2,208.6 1046.3,209.2 1047.5,211.6 1048.6,211.8 1049.8,214.1 1051.0,214.4 1052.1,215.6 1053.3,216.2 1054.4,217.5 1055.6,219.6 1056.7,221.0 1057.9,221.6 1059.1,222.0 1060.2,222.6 1061.4,223.4 1062.5,224.7 1063.7,226.0 1064.8,226.1 1066.0,228.0 1066.7,229.8 1067.3,230.4 1068.0,232.3 1068.7,232.8 1069.3,234.2 1070.0,236.8 1070.7,238.0 1071.3,238.1 1072.0,240.1 1072.7,242.3 1073.3,242.7 1074.0,245.0 1074.9,246.5 1075.7,247.7 1076.6,248.8 1077.4,249.7 1078.3,252.3 1079.1,253.3 1080.0,253.5 1081.0,255.6 1082.0,256.0 1083.0,257.7 1084.0,260.5 1085.0,262.0 1086.0,262.2 1087.0,264.1 1088.0,265.5 1089.0,267.4 1089.6,268.6 1090.2,269.4 1090.7,270.1 1091.3,270.8 1091.9,272.1 1092.4,274.3 1093.0,275.1 1093.6,276.6 1094.3,279.6 1095.0,281.3 1095.7,282.8 1096.4,284.0 1097.1,286.0 1097.8,286.8 1098.5,289.1 1099.2,289.4 1100.0,291.4 1100.7,292.1 1101.4,292.6 1102.1,294.1 1102.8,295.2 1103.5,296.8 1104.2,298.5 1104.9,299.4 1105.7,301.4 1106.4,302.7 1107.2,303.8 1107.9,304.6 1108.7,305.5 1109.4,308.1 1110.2,309.1 1110.9,310.7 1111.7,312.1 1112.4,314.0 1113.2,315.0 1113.9,316.2 1114.7,317.2 1115.5,317.8 1116.3,319.5 1117.1,319.8 1117.9,321.9 1118.7,322.4 1119.6,325.0 1120.4,325.7 1121.2,327.0 1122.0,327.7 1122.8,329.2 1123.6,331.5 1124.4,332.0 1125.2,333.1 1125.8,334.6 1126.5,336.7 1127.1,337.6 1127.8,340.3 1128.4,341.3 1129.1,342.4 1129.7,343.8 1130.3,345.4 1131.0,347.6 1131.6,348.0 1132.3,349.6 1132.9,350.8 1133.6,353.1 1134.2,354.6 1135.1,354.8 1136.1,356.7 1137.0,358.2 1138.0,359.7 1138.9,361.5 1139.8,361.4 1140.8,363.2 1141.7,365.2 1142.7,365.9 1143.6,367.0 1144.6,369.4 1145.5,370.1 1145.7,371.3 1146.0,373.1 1146.2,374.8 1146.4,376.0 1146.7,378.2 1146.9,378.9 1147.1,380.7 1147.3,383.6 1147.6,384.5 1147.8,385.7 1148.8,387.6 1149.8,388.0 1150.8,389.8 1151.8,390.3 1152.8,392.4 1153.8,393.2 1154.8,394.0 1155.8,396.0 1156.8,397.3 1157.4,398.5 1158.0,400.5 1158.7,402.0 1159.3,403.4 1159.9,404.9 1160.5,406.0 1161.1,406.2 1161.7,407.5 1162.4,409.6 1163.0,410.5 1163.6,412.5 1164.2,414.8 1164.7,416.3 1165.3,417.3 1165.9,418.0 1166.4,419.4 1167.0,421.0 1167.6,424.0 1168.1,424.0 1168.7,425.8 1169.3,428.0 1169.8,429.5 1170.4,431.4 1171.0,432.5 1171.5,434.2 1172.1,435.2 1172.7,437.1 1173.2,438.1 1173.8,438.9 1174.4,441.6 1174.9,441.9 1175.5,443.6 1176.1,445.6 1176.6,447.0 1177.2,449.5 1177.4,450.4 1177.6,452.4 1177.9,453.5 1178.1,454.7 1178.3,456.6 1178.5,459.1 1178.7,460.4 1179.0,461.7 1179.2,463.4 1179.4,464.4 1179.5,466.2 1179.6,468.2 1179.8,469.9 1179.9,470.5 1180.0,473.5 1180.1,473.7 1180.2,475.4 1180.4,477.4 1180.5,478.4 1180.6,481.3 1180.7,481.9 1180.9,483.3 1181.0,485.3 1181.1,487.3 1181.2,488.4 1181.3,490.0 1181.5,491.5 1181.6,492.4 1181.7,494.0 1182.1,496.0 1182.5,497.3 1182.8,499.4 1183.2,500.1 1183.6,501.9 1184.0,503.5 1184.3,505.6 1184.7,506.3 1185.1,508.2 1185.5,509.9 1185.8,511.2 1186.2,512.4 1186.8,513.7 1187.4,514.3 1188.1,517.0 1188.7,518.4 1189.3,519.2 1189.9,520.4 1190.5,522.8 1191.1,524.2 1191.8,524.9 1192.4,527.0 1193.0,528.7 1193.5,530.3 1193.9,531.5 1194.3,532.4 1194.8,534.1 1195.2,536.7 1195.7,538.1 1196.2,538.8 1196.6,540.6 1197.0,542.5 1197.5,543.3 1197.8,545.1 1198.1,547.5 1198.4,548.8 1198.7,550.0 1199.0,552.0 1199.3,553.1 1199.6,554.0 1199.9,556.6 1200.2,557.5 1200.5,559.2 1200.8,560.6 1201.1,562.6 1201.4,564.4 1201.7,564.4 1202.0,567.0 1202.2,568.3 1202.3,570.1 1202.5,572.0 1202.7,572.5 1202.8,575.2 1203.0,576.4 1203.2,578.2 1203.3,580.0 1203.5,581.2 1203.7,583.0 1203.8,584.7 1204.0,585.9 1204.2,587.9 1204.3,589.1 1204.5,590.8 1204.8,591.9 1205.2,593.3 1205.5,594.7 1205.8,597.2 1206.1,598.2 1206.4,600.3 1206.8,600.6 1207.1,603.3 1207.6,604.6 1208.0,606.1 1208.5,607.8 1208.9,608.4 1209.4,610.7 1209.8,612.6 1210.3,613.9 1210.7,615.7 1211.2,616.3 1211.6,618.2 1212.1,619.2 1212.5,621.0 1213.0,622.2 1213.4,623.8 1213.9,625.6 1214.1,626.6 1214.3,629.1 1214.4,629.5 1214.6,632.3 1214.8,632.8 1215.0,635.3 1215.2,636.9 1215.3,638.7 1215.5,639.5 1215.7,640.7 1215.9,642.3 1216.0,644.7 1216.2,645.0 1216.4,646.6 1216.6,648.0 1216.8,650.6 1216.9,651.8 1217.1,654.1 1217.3,654.6 1217.6,656.7 1217.8,657.6 1218.1,660.2 1218.3,660.9 1218.6,663.2 1218.9,664.5 1219.1,665.6 1219.4,666.4 1219.7,668.8 1219.9,669.5 1220.2,671.7 1220.4,673.6 1220.7,673.9 1220.9,676.8 1221.1,677.7 1221.2,678.8 1221.4,680.9 1221.6,682.1 1221.8,683.0 1222.0,685.5 1222.1,687.6 1222.3,689.1 1222.5,690.0 1222.7,690.9 1222.8,693.3 1223.0,694.0 1223.2,695.5 1223.4,698.1 1223.6,699.8 1223.7,700.5 1223.9,702.5 1224.1,704.8 1224.3,706.0 1224.6,706.6 1224.8,708.7 1225.0,710.8 1225.3,711.3 1225.5,713.3 1225.8,714.3 1226.0,716.8 1226.2,718.4 1226.5,719.4 1226.7,720.9 1226.9,723.2 1227.2,724.2 1227.4,726.7 1227.7,727.8 1227.9,728.2 1228.1,731.2 1228.4,731.9 1228.6,733.4 1228.9,735.5 1229.2,736.8 1229.5,738.6 1229.8,739.6 1230.2,741.7 1230.5,743.3 1230.8,743.9 1231.1,745.6 1231.4,746.5 1231.7,748.0 1232.0,749.5 1232.3,751.7 1232.6,753.6 1233.0,754.2 1233.3,756.6 1233.6,757.3 1233.9,759.9 1234.2,761.1 1234.5,761.8 1234.9,765.0 1235.2,766.0 1235.5,766.8 1235.8,768.3 1236.2,770.6 1236.5,772.4 1236.8,774.4 1237.2,774.7 1237.5,777.6 1237.9,778.2 1238.2,780.1 1238.5,781.4 1238.9,783.7 1239.2,784.9 1239.6,786.7 1239.9,788.7 1240.3,789.8 1240.6,790.7 1241.0,792.6 1241.4,793.7 1241.8,795.7 1242.1,796.6 1242.5,798.9 1242.9,800.5 1243.3,801.7 1243.6,803.9 1244.0,804.5 1244.4,806.8 1244.8,807.2 1245.1,809.2 1245.5,810.4 1245.8,811.7 1246.1,813.9 1246.4,815.0 1246.7,817.2 1247.0,817.9 1247.3,819.5 1247.6,821.5 1247.9,823.4 1248.2,824.9 1248.5,825.7 1248.8,828.5 1249.1,829.1 1249.4,830.9 1249.7,832.7 1250.0,833.6 1250.3,835.6 1250.6,836.3 1250.9,838.0 1251.2,840.4 1251.5,841.1 1251.8,843.5 1252.1,844.2 1252.4,845.8 1252.8,847.4 1253.1,849.1 1253.4,850.4 1253.7,851.0 1254.0,853.3 1254.3,855.3 1254.6,856.6 1254.9,857.1 1255.2,858.6 1255.6,861.3 1255.9,862.1 1256.2,864.2 1256.5,865.9 1256.8,866.3 1257.1,867.8 1257.3,869.6 1257.6,872.2 1257.8,872.8 1258.1,874.1 1258.3,875.4 1258.6,877.9 1258.8,879.6 1259.1,879.7 1259.4,882.2 1259.6,882.7 1259.9,885.5 1260.1,885.8 1260.4,888.0 1260.6,888.9 1260.9,890.8 1261.1,892.7 1261.4,893.4 1261.7,895.8 1262.0,897.0 1262.2,897.9 1262.5,900.1 1262.8,901.9 1263.1,903.7 1263.3,903.9 1263.6,906.6 1263.9,907.9 1264.2,910.1 1264.4,911.2 1264.7,912.9 1265.0,914.4 1265.2,915.4 1265.5,917.0 1265.8,919.0 1266.1,919.7 1266.4,921.8 1266.6,922.9 1266.9,925.4 1267.2,926.2 1267.5,928.5 1267.8,929.4 1268.1,931.6 1268.4,932.4 1268.7,934.8 1269.0,936.1 1269.2,936.9 1269.5,938.3 1269.8,939.4 1270.1,941.8 1270.4,942.9 1270.7,944.3 1271.0,946.3 1271.3,947.4 1271.6,949.2 1271.8,951.1 1272.0,952.8 1272.2,954.3 1272.5,955.5 1272.7,956.6 1272.9,957.5 1273.1,959.5 1273.3,961.5 1273.5,962.5 1273.7,964.5 1273.9,966.3 1274.2,967.9 1274.4,968.1 1274.6,970.2 1274.8,972.4 1275.0,972.5 1275.2,974.1 1275.4,976.5 1275.6,977.9 1275.9,979.0 1276.1,981.0 1276.3,982.2 1276.5,984.4 1276.8,985.3 1277.1,987.7 1277.5,988.3 1277.8,989.7 1278.1,991.8 1278.4,992.9 1278.7,995.6 1279.1,996.1 1279.4,998.4 1279.7,999.5 1280.0,1000.6 1280.3,1002.7 1280.7,1004.4 1281.0,1005.6 1281.3,1007.4 1281.6,1008.9 1281.8,1010.0 1282.1,1011.9 1282.3,1013.4 1282.6,1014.0 1282.8,1016.9 1283.1,1017.6 1283.3,1018.5 1283.6,1020.6 1283.8,1022.3 1284.1,1024.1 1284.3,1024.8 1284.6,1026.4 1284.8,1027.9 1285.1,1030.6 1285.3,1031.4 1285.6,1033.3 1285.8,1034.1 1286.1,1035.7 1286.4,1037.1 1286.7,1039.3 1287.0,1040.7 1287.3,1042.0 1287.7,1042.9 1288.0,1045.2 1288.3,1046.4 1288.6,1047.8 1288.9,1049.6 1289.2,1051.2 1289.5,1052.0 1289.8,1053.7 1290.1,1055.5 1290.4,1056.7 1290.8,1058.7 1291.1,1060.1 1291.4,1062.3 1291.7,1062.8 1292.0,1064.9 1292.4,1065.8 1292.8,1068.4 1293.2,1069.9 1293.7,1070.8 1294.1,1072.7 1294.5,1074.8 1294.9,1075.4 1295.3,1076.5 1295.7,1078.4 1296.1,1080.1 1296.6,1081.3 1297.0,1083.5 1297.4,1085.5 1297.8,1085.8 1298.1,1088.0 1298.3,1089.2 1298.6,1091.3 1298.9,1092.7 1299.1,1093.9 1299.4,1096.7 1299.6,1097.7 1299.9,1099.6 1300.2,1100.9 1300.4,1102.2 1300.7,1104.1 1301.5,1105.1 1302.4,1107.3 1303.2,1108.5 1304.0,1110.1 1304.8,1110.1 1305.7,1112.2 1306.5,1113.6 1306.8,1114.6 1307.1,1117.0 1307.4,1117.7 1307.7,1119.9 1308.0,1121.1 1308.3,1122.5 1308.5,1123.4 1308.8,1125.4 1309.1,1126.2 1309.4,1128.4 1309.7,1129.9 1310.0,1131.1 1310.3,1132.6 1310.7,1134.0 1311.1,1134.9 1311.4,1138.0 1311.8,1138.6 1312.2,1140.9 1312.6,1141.6 1312.9,1143.0 1313.3,1145.2 1313.7,1146.4 1314.1,1147.6 1314.4,1149.8 1314.8,1151.0 1315.2,1152.9 1315.5,1153.1 1315.8,1155.4 1316.0,1156.8 1316.3,1157.7 1316.6,1160.0 1316.9,1161.3 1317.2,1162.7 1317.5,1164.1 1317.7,1165.5 1318.0,1166.3 1318.3,1168.6 1318.6,1169.2 1318.9,1172.0 1319.2,1173.4 1319.4,1174.3 1319.7,1175.9 1320.0,1177.4 1320.4,1179.4 1320.7,1180.9 1321.1,1181.7 1321.4,1183.8 1321.8,1184.5 1322.1,1187.2 1322.5,1188.2 1322.8,1190.2 1323.2,1190.8 1323.5,1193.6 1323.9,1194.1 1324.6,1195.4 1325.2,1197.1 1325.8,1199.1 1326.5,1201.2 1327.2,1201.7 1327.8,1203.1 1328.4,1202.4 1329.1,1200.2 1329.7,1198.6 1330.3,1197.0 1331.0,1196.6 1331.6,1195.4 1331.9,1192.8 1332.2,1192.6 1332.5,1190.2 1332.8,1189.4 1333.1,1187.6 1333.4,1185.3 1333.7,1184.2 1334.0,1182.7 1334.3,1181.0 1334.6,1180.6 1334.9,1178.1 1335.2,1177.1 1335.5,1175.9 1335.7,1174.6 1335.9,1172.9 1336.2,1171.2 1336.4,1169.0 1336.6,1167.7 1336.8,1167.3 1337.1,1165.3 1337.3,1164.5 1337.5,1162.4 1337.7,1160.4 1338.0,1159.2 1338.2,1157.9 1338.4,1156.2 1338.7,1155.1 1338.9,1153.8 1339.2,1151.0 1339.4,1150.4 1339.7,1148.9 1340.0,1147.5 1340.2,1145.0 1340.5,1143.7 1340.7,1143.2 1341.0,1140.7 1341.3,1140.1 1341.5,1138.2 1341.8,1136.2 1342.0,1135.7 1342.3,1134.0 1342.5,1131.9 1342.6,1129.7 1342.8,1128.2 1342.9,1126.6 1343.1,1125.0 1343.2,1123.4 1343.4,1122.2 1343.5,1120.5 1343.7,1119.6 1343.8,1117.6 1344.0,1117.0 1344.1,1114.5 1344.3,1113.6 1344.4,1112.2 1344.6,1110.9 1344.7,1109.4 1344.9,1106.6 1345.0,1104.9 1345.2,1104.6 1345.4,1103.0 1345.6,1100.6 1345.8,1098.8 1346.0,1098.0 1346.2,1096.0 1346.4,1094.5 1346.6,1092.8 1346.7,1091.2 1346.9,1089.8 1347.1,1088.8 1347.3,1086.9 1347.5,1085.7 1347.7,1083.7 1347.9,1082.4 1348.1,1081.3 1348.3,1078.6 1348.5,1077.5 1348.6,1075.7 1348.8,1074.9 1349.0,1072.3 1349.2,1071.7 1349.4,1069.9 1349.5,1067.7 1349.7,1066.6 1349.9,1065.6 1350.1,1063.0 1350.3,1062.6 1350.5,1061.0 1350.6,1058.0 1350.8,1057.6 1351.0,1055.1 1351.1,1054.4 1351.3,1052.6 1351.4,1051.6 1351.5,1049.4 1351.7,1047.1 1351.8,1046.5 1351.9,1044.9 1352.1,1043.8 1352.2,1042.4 1352.3,1039.9 1352.5,1038.9 1352.6,1036.2 1352.7,1035.5 1352.9,1033.7 1353.0,1031.7 1353.2,1030.9 1353.3,1029.4 1353.5,1028.5 1353.6,1026.8 1353.8,1024.7 1353.9,1023.7 1354.1,1021.7 1354.2,1019.6 1354.4,1018.0 1354.5,1016.6 1354.7,1015.7 1354.8,1013.8 1355.0,1011.9 1355.1,1011.0 1355.3,1010.0 1355.4,1008.0 1355.6,1006.1 1355.7,1005.4 1355.9,1002.7 1356.0,1001.3 1356.1,1001.1 1356.3,999.0 1356.4,996.4 1356.5,996.2 1356.6,993.9 1356.7,992.5 1356.8,990.4 1357.0,989.6 1357.1,987.6 1357.2,985.5 1357.3,984.6 1357.4,982.3 1357.6,982.0 1357.7,980.4 1357.8,977.9 1357.9,977.3 1358.1,975.3 1358.2,973.7 1358.3,972.6 1358.4,970.1 1358.6,969.7 1358.7,967.2 1358.8,965.2 1358.9,964.6 1359.1,962.3 1359.2,961.1 1359.3,959.5 1359.4,958.3 1359.6,955.9 1359.7,955.5 1359.8,953.2 1360.0,952.0 1360.1,950.6 1360.2,948.4 1360.4,947.0 1360.5,946.0 1360.6,943.6 1360.8,942.3 1360.9,941.7 1361.0,939.5 1361.2,938.3 1361.3,935.9 1361.4,934.6 1361.6,933.2 1361.7,931.8 1361.8,929.7 1361.9,928.1 1362.0,927.0 1362.1,925.0 1362.2,924.4 1362.3,922.7 1362.4,920.9 1362.4,918.6 1362.5,917.2 1362.6,916.2 1362.7,914.4 1362.8,912.6 1362.9,910.3 1363.0,909.6 1363.1,907.3 1363.2,905.6 1363.3,904.2 1363.4,903.0 1363.5,902.4 1363.6,900.9 1363.7,898.7 1363.8,897.7 1363.9,896.0 1364.0,894.4 1364.1,892.9 1364.2,890.9 1364.3,889.7 1364.4,888.5 1364.5,885.7 1364.6,884.1 1364.7,883.1 1364.8,881.5 1364.9,880.2 1365.0,879.1 1365.1,877.3 1365.2,874.6 1365.3,873.1 1365.5,871.5 1365.6,870.7 1365.8,868.9 1365.9,867.7 1366.1,866.4 1366.2,864.3 1366.4,862.8 1366.5,862.2 1366.7,860.4 1366.8,859.0 1367.0,856.5 1367.2,855.7 1367.3,853.3 1367.5,853.0 1367.6,850.6 1367.8,848.8 1367.9,846.9 1368.1,846.6 1368.2,844.9 1368.4,843.8 1368.5,841.2 1368.7,840.1 1368.8,838.6 1368.9,837.1 1369.0,835.8 1369.1,833.2 1369.2,832.8 1369.3,830.0 1369.4,828.8 1369.5,827.1 1369.6,826.5 1369.7,824.7 1369.8,822.9 1370.0,822.0 1370.1,819.4 1370.2,817.8 1370.3,817.0 1370.4,814.8 1370.5,814.3 1370.6,812.9 1370.7,811.0 1370.8,808.5 1370.9,807.5 1371.0,805.4 1371.1,804.9 1371.2,802.7 1371.3,800.8 1371.5,800.4 1371.6,798.8 1371.7,796.5 1371.8,794.6 1371.9,792.9 1372.0,791.9 1372.2,789.9 1372.3,788.6 1372.4,787.5 1372.5,786.4 1372.6,784.0 1372.7,782.3 1372.9,780.7 1373.0,780.2 1373.1,778.4 1373.2,777.1 1373.3,775.7 1373.4,773.2 1373.5,772.1 1373.6,770.3 1373.7,768.9 1373.8,768.2 1373.8,766.5 1373.9,764.7 1374.0,763.4 1374.1,761.7 1374.2,759.8 1374.3,758.2 1374.4,756.3 1374.5,755.1 1374.6,753.0 1374.7,752.8 1374.8,750.0 1374.9,749.4 1374.9,748.0 1375.0,745.3 1375.1,743.9 1375.2,743.4 1375.3,740.5 1375.4,739.1 1375.5,738.9 1375.6,736.1 1375.7,735.6 1375.8,733.7 1375.9,732.9 1376.0,730.9 1376.1,728.7 1376.2,728.1 1376.3,725.6 1376.4,724.5 1376.5,723.1 1376.7,722.2 1376.8,720.3 1376.9,718.9 1377.0,717.4 1377.1,714.8 1377.2,713.8 1377.3,713.0 1377.4,711.2 1377.5,709.8 1377.6,708.6 1377.7,706.1 1377.8,704.4 1377.8,702.7 1377.9,702.4 1378.0,700.2 1378.0,699.2 1378.1,697.4 1378.2,695.5 1378.2,693.3 1378.3,692.7 1378.3,691.5 1378.4,689.4 1378.5,687.3 1378.5,686.6 1378.6,684.6 1378.7,683.1 1378.7,681.2 1378.8,680.4 1378.9,677.9 1379.0,676.4 1379.1,674.8 1379.2,673.7 1379.4,671.9 1379.5,671.3 1379.6,669.5 1379.7,668.1 1379.8,665.5 1379.9,663.7 1380.0,663.1 1380.1,662.0 1380.2,660.0 1380.4,659.0 1380.5,656.1 1380.6,655.4 1380.7,653.9 1380.8,652.3 1380.9,651.1 1381.0,649.5 1381.1,648.1 1381.2,646.2 1381.3,644.2 1381.5,643.8 1381.6,641.3 1381.7,639.3 1381.8,638.7 1381.9,636.4 1382.0,635.4 1382.1,634.2 1382.2,631.9 1382.3,631.5 1382.5,628.9 1382.6,627.9 1382.7,625.6 1382.8,625.4 1382.9,622.9 1383.0,622.0 1383.1,620.9 1383.2,618.6 1383.3,616.7 1383.5,615.1 1383.6,614.7 1383.7,613.1 1383.8,610.9 1383.9,609.4 1384.0,607.8 1384.2,606.3 1384.3,604.8 1384.4,603.9 1384.5,602.1 1384.7,600.0 1384.8,599.1 1384.9,596.9 1385.0,595.6 1385.2,594.7 1385.3,593.4 1385.4,591.3 1385.5,590.5 1385.7,587.6 1385.8,587.4 1385.9,585.8 1386.0,583.0 1386.2,582.9 1386.3,580.9 1386.4,578.6 1386.5,576.9 1386.7,575.8 1386.8,574.6 1386.9,573.2 1387.0,572.1 1387.2,569.4 1387.3,568.6 1387.4,567.9 1387.5,566.1 1387.7,563.5 1387.8,562.5 1387.9,560.7 1388.0,560.3 1388.2,558.4 1388.3,557.1 1388.4,554.8 1388.5,553.8 1388.7,552.0 1388.8,550.6 1388.9,548.5 1389.0,547.4 1389.2,545.7 1389.3,544.9 1389.4,542.6 1389.5,542.1 1389.7,539.2 1389.8,538.5 1389.9,536.3 1390.0,534.8 1390.2,534.4 1390.3,533.1 1390.4,530.4 1390.5,528.5 1390.6,527.2 1390.7,525.6 1390.8,524.3 1390.9,523.6 1391.0,521.5 1391.1,520.7 1391.2,518.4 1391.3,517.3 1391.4,515.9 1391.5,514.7 1391.6,513.2 1391.7,510.8 1391.8,510.2 1391.9,508.6 1392.0,506.7 1392.1,505.2 1392.2,503.6 1392.3,502.0 1392.4,499.9 1392.5,499.2 1392.6,496.7 1392.7,496.0 1392.8,494.9 1393.0,493.5 1393.1,491.8 1393.2,489.5 1393.3,487.6 1393.4,487.3 1393.5,485.2 1393.6,483.9 1393.7,482.8 1393.8,480.7 1393.9,479.5 1394.0,477.4 1394.1,476.3 1394.2,474.3 1394.3,472.7 1394.4,471.8 1394.5,470.1 1394.6,468.0 1394.7,466.9 1394.8,465.6 1394.9,464.2 1395.0,461.6 1395.1,461.0 1395.2,459.4 1395.3,457.1 1395.4,456.0 1395.5,454.9 1395.6,453.7 1395.7,451.6 1395.8,450.1 1395.9,449.2 1396.0,446.5 1396.1,446.4 1396.2,444.5 1396.3,441.9 1396.4,441.0 1396.5,438.8 1396.6,437.5 1396.7,436.5 1396.8,434.9 1396.9,433.1 1397.0,431.9 1397.1,429.7 1397.2,428.1 1397.3,427.4 1397.4,426.0 1397.5,424.0 1397.6,422.7 1397.7,422.1 1397.8,419.1 1397.9,418.3 1398.0,417.5 1398.1,415.0 1398.2,414.3 1398.3,411.7 1398.4,410.7 1398.5,409.4 1398.6,407.6 1398.7,406.8 1398.8,404.5 1398.9,402.9 1399.0,401.4 1399.1,400.2 1399.2,398.1 1399.3,396.7 1399.4,395.2 1399.5,394.7 1399.6,393.0 1399.7,390.5 1399.8,389.9 1399.9,388.0 1400.0,386.3 1400.1,385.4 1400.2,384.0 1400.3,381.8 1400.4,379.8 1400.5,378.1 1400.6,378.0 1400.7,376.2 1400.8,373.8 1400.9,372.1 1401.0,371.1 1401.1,369.4 1401.2,368.1 1401.3,366.1 1401.4,365.1 1401.5,364.0 1401.6,362.5 1401.7,361.4 1401.8,359.8 1401.9,358.6 1402.0,356.1 1402.1,355.7 1402.2,353.2 1402.3,352.5 1402.4,349.9 1402.5,349.4 1402.6,347.9 1402.7,346.4 1402.8,344.7 1402.8,343.7 1402.9,341.3 1403.0,339.8 1403.1,337.8 1403.2,336.2 1403.3,335.4 1403.4,333.1 1403.5,332.0 1403.6,330.5 1403.7,329.9 1403.8,327.8 1403.9,325.7 1404.0,325.2 1404.1,323.5 1404.2,322.3 1404.3,319.9 1404.4,318.1 1404.5,316.7 1404.6,316.2 1404.7,315.1 1404.8,312.2 1404.9,310.6 1405.0,309.1 1405.1,307.8 1405.2,307.3 1405.3,305.6 1405.4,303.2 1405.5,301.7 1405.7,301.3 1405.8,298.9 1405.9,297.0 1406.0,295.8 1406.1,294.3 1406.2,293.6 1406.3,291.0 1406.4,289.8 1406.5,289.2 1406.6,286.5 1406.8,284.8 1406.9,284.7 1407.0,282.3 1407.1,280.2 1407.2,279.7 1407.3,277.7 1407.4,275.8 1407.5,274.6 1407.6,273.9 1407.7,272.1 1407.8,269.9 1408.0,268.3 1408.1,267.6 1408.2,265.3 1408.3,265.0 1408.4,263.2 1408.5,261.4 1408.7,260.1 1408.9,258.1 1409.0,256.7 1409.2,255.1 1409.4,253.8 1409.6,253.1 1409.8,250.3 1409.9,249.4 1410.1,247.4 1410.3,246.8 1410.5,245.6 1410.6,243.1 1410.8,241.9 1411.0,240.5 1411.2,239.5 1411.4,237.8 1411.5,236.2 1411.7,234.2 1411.9,233.3 1412.1,231.1 1412.2,229.5 1412.4,227.6 1412.6,227.3 1412.8,225.0 1413.0,224.2 1413.1,221.8 1413.3,220.8 1413.5,220.0 1413.8,218.2 1414.0,216.6 1414.3,215.1 1414.5,213.3 1414.8,210.7 1415.1,210.3 1415.3,208.8 1415.6,207.1 1415.9,205.5 1416.1,203.4 1416.4,201.4 1416.7,200.3 1416.9,199.4 1417.2,196.9 1417.4,195.2 1417.7,194.1 1417.9,193.1 1418.1,191.2 1418.3,189.8 1418.5,187.1 1418.7,186.9 1418.9,184.4 1419.1,183.6 1419.3,182.2 1419.6,180.6 1419.8,178.0 1420.0,177.6 1420.2,174.7 1420.4,174.5 1420.6,171.8 1420.8,171.4 1421.0,169.2 1421.3,167.3 1421.6,166.4 1422.0,165.5 1422.3,163.1 1422.6,161.8 1422.9,160.7 1423.3,159.4 1423.6,157.0 1423.9,155.4 1424.2,154.1 1424.6,152.2 1424.9,150.7 1425.2,149.5 1426.0,147.2 1426.9,146.1 1427.7,145.1 1428.6,143.9 1429.4,141.8 1429.5,141.0 1429.7,140.0 1429.8,138.4 1429.9,135.6 1430.1,134.5 1430.2,134.1 1430.3,132.4 1430.4,129.8 1430.6,128.5 1430.7,127.4 1430.8,125.3 1431.0,124.6 1431.1,122.5 1431.8,121.3 1432.5,120.3 1433.2,117.5 1433.9,116.7 1434.6,114.9 1435.3,114.1 1436.0,115.6 1436.7,116.7 1437.3,117.0 1438.0,118.8 1438.7,119.7 1439.1,118.1 1439.5,117.6 1439.9,116.3 1440.3,115.1 1440.8,112.4 1441.2,112.2 1441.6,110.7 1442.0,108.9 1443.0,107.7 1444.0,105.9 1445.1,105.6 1446.1,103.8 1447.1,101.9 1447.9,103.4 1448.8,105.8 1449.6,107.9 1450.4,108.7 1451.0,88.0 1452.3,95.0 1453.7,88.0 1455.5,100.0 1457.4,88.0 1458.9,110.0 1459.3,110.0 1460.2,88.0 1461.6,88.0 1463.0,88.0 1464.7,110.0 1465.1,110.0 1466.2,79.5 1467.6,79.5 1469.0,95.0 1470.7,110.0 1471.1,110.0 1472.1,79.5 1473.9,110.0 1474.3,110.0 1475.0,79.5 1476.7,110.0 1477.1,110.0 1478.1,79.5 1479.8,110.0 1480.2,110.0 1481.1,79.5 1482.5,79.5 1483.6,79.5 1485.2,110.0 1485.6,110.0 1486.5,90.0 1488.2,110.0 1488.6,110.0 1489.4,100.0 1490.6,100.0 1492.3,79.5 1493.5,79.5 1494.7,79.5 1496.5,95.0 1498.3,110.0 1498.7,110.0 1499.4,100.0 1501.3,95.0 1502.6,79.5 1504.3,110.0 1504.7,110.0 1505.6,79.5 1507.4,79.5 1508.9,95.0 1510.1,110.0 1510.5,110.0 1511.5,79.5 1512.9,79.5 1514.5,110.0 1514.9,110.0 1516.4,79.5 1518.4,79.5 1520.4,79.5 1522.4,79.5 1524.4,79.5 1525.3,79.5 1525.8,110.2 1526.6,110.2 1527.1,79.5 1527.8,79.5 1529.8,79.5 1532.0,79.5 1532.5,110.2 1533.3,110.2 1533.8,79.5 1534.5,79.5 1536.5,79.5 1538.5,79.5 1540.5,79.5 1541.2,79.5 1541.7,110.2 1542.5,110.2 1543.0,79.5 1543.7,79.5 1545.7,79.5 1547.7,79.5 1549.7,79.5 1551.7,79.5 1553.7,79.5 1554.6,79.5 1555.1,110.2 1555.9,110.2 1556.4,79.5 1557.1,79.5 1559.1,79.5 1561.1,79.5 1563.1,79.5 1565.1,79.5 1567.1,79.5 1569.1,79.5 1569.7,79.5 1570.2,110.2 1571.0,110.2 1571.5,79.5 1572.2,79.5 1574.2,79.5 1576.2,79.5 1578.2,79.5 1580.2,79.5 1581.4,79.5 1581.9,110.2 1582.7,110.2 1583.2,79.5 1583.9,79.5 1585.9,79.5 1587.9,79.5 1589.9,79.5 1591.9,79.5 1593.9,79.5 1595.9,79.5 1597.9,79.5 1599.9,79.5 1601.9,79.5 1603.9,79.5 1605.9,79.5 1607.3,79.5 1607.8,110.2 1608.6,110.2 1609.1,79.5 1609.8,79.5 1611.8,79.5 1613.8,79.5 1615.8,79.5 1617.8,79.5 1619.8,79.5 1621.8,79.5 1623.8,79.5 1625.8,79.5 1627.8,79.5 1630.0,79.5 1630.5,110.2 1631.3,110.2 1631.8,79.5 1632.5,79.5 1634.5,79.5 1636.5,79.5 1638.5,79.5 1640.5,79.5 1642.5,79.5 1644.5,79.5 1646.5,79.5 1648.5,79.5 1650.5,79.5 1652.5,79.5 1654.5,79.5 1655.9,79.5 1656.4,110.2 1657.2,110.2 1657.7,79.5 1658.4,79.5 1660.4,79.5 1662.4,79.5 1664.4,79.5 1666.4,79.5 1668.4,79.5 1670.4,79.5 1672.4,79.5 1674.4,79.5 1675.2,79.5 1675.7,110.2 1676.5,110.2 1677.0,79.5 1677.7,79.5 1679.7,79.5 1681.7,79.5 1683.7,79.5 1685.0,79.5 1685.5,110.2 1686.3,110.2 1686.8,79.5 1687.5,79.5 1689.5,79.5 1691.5,79.5 1693.5,79.5 1695.5,79.5 1697.5,79.5 1699.5,79.5 1701.5,79.5 1703.5,79.5 1704.8,79.5 1705.3,98.0 1706.1,98.0 1706.6,79.5 1723.2,79.5 1723.5,100.0 1725.6,100.0 1726.0,69.0 1727.5,69.0 1727.6,30.0"/>
</g>
<path d="M212.7,1319.0V1329M350.5,1319.0V1341M488.3,1319.0V1329M626.1,1319.0V1341M763.9,1319.0V1329M901.7,1319.0V1341M1039.5,1319.0V1329M1177.3,1319.0V1341M1315.1,1319.0V1329M1452.9,1319.0V1341M1590.7,1319.0V1329M1728.5,1319.0V1341" stroke="#000" stroke-width="5" fill="none" shape-rendering="crispEdges"/>
<text x="308.5" y="1397.2" font-size="57.5" textLength="82.5" lengthAdjust="spacingAndGlyphs">100</text>
<text x="585.0" y="1397.2" font-size="57.5" textLength="83.6" lengthAdjust="spacingAndGlyphs">200</text>
<text x="861.0" y="1397.2" font-size="57.5" textLength="82.9" lengthAdjust="spacingAndGlyphs">300</text>
<text x="1137.6" y="1397.2" font-size="57.5" textLength="81.8" lengthAdjust="spacingAndGlyphs">400</text>
<text x="1411.4" y="1397.2" font-size="57.5" textLength="83.5" lengthAdjust="spacingAndGlyphs">500</text>
<text x="1688.5" y="1397.2" font-size="57.5" textLength="81.5" lengthAdjust="spacingAndGlyphs">600</text>
<text x="686.7" y="1500.5" font-size="71.3" textLength="380.2" lengthAdjust="spacingAndGlyphs">Temperature</text>
<text x="1083.4" y="1500.5" font-size="71.3" textLength="114.8" lengthAdjust="spacingAndGlyphs">(°C)</text>
<text transform="translate(80.0,1014.8) rotate(-90)" x="-0.0" y="0" font-size="71.3" textLength="210.6" lengthAdjust="spacingAndGlyphs">Weight</text>
<text transform="translate(80.0,784.7) rotate(-90)" x="-1.0" y="0" font-size="71.3" textLength="109.9" lengthAdjust="spacingAndGlyphs">loss</text>
<text transform="translate(80.0,656.7) rotate(-90)" x="-2.2" y="0" font-size="71.3" textLength="172.3" lengthAdjust="spacingAndGlyphs">deriv.</text>
<text transform="translate(80.0,467.5) rotate(-90)" x="-2.8" y="0" font-size="71.3" textLength="191.0" lengthAdjust="spacingAndGlyphs">(%/°C)</text>
<text x="313.9" y="1141.9" font-size="48" textLength="87.5" lengthAdjust="spacingAndGlyphs">SBR</text>
<text x="414.0" y="1141.9" font-size="48" textLength="62.8" lengthAdjust="spacingAndGlyphs">0%</text>
<text x="313.9" y="1212.9" font-size="48" textLength="87.5" lengthAdjust="spacingAndGlyphs">SBR</text>
<text x="412.2" y="1212.9" font-size="48" textLength="64.8" lengthAdjust="spacingAndGlyphs">5%</text>
<text x="488.7" y="1212.9" font-size="48" textLength="196.3" lengthAdjust="spacingAndGlyphs">Cellulose</text>
<text x="313.9" y="1283.3" font-size="48" textLength="87.5" lengthAdjust="spacingAndGlyphs">SBR</text>
<text x="412.2" y="1283.3" font-size="48" textLength="87.9" lengthAdjust="spacingAndGlyphs">20%</text>
<text x="513.3" y="1283.3" font-size="48" textLength="196.3" lengthAdjust="spacingAndGlyphs">Cellulose</text>
<g stroke-width="3" fill="none" shape-rendering="crispEdges">
<line x1="175" y1="1124.5" x2="305" y2="1124.5" stroke="#008500"/>
<line x1="175" y1="1194.5" x2="305" y2="1194.5" stroke="#E9DE00"/>
<line x1="175" y1="1265.5" x2="305" y2="1265.5" stroke="#9A0000"/>
</g>
</svg>
</body></html>
